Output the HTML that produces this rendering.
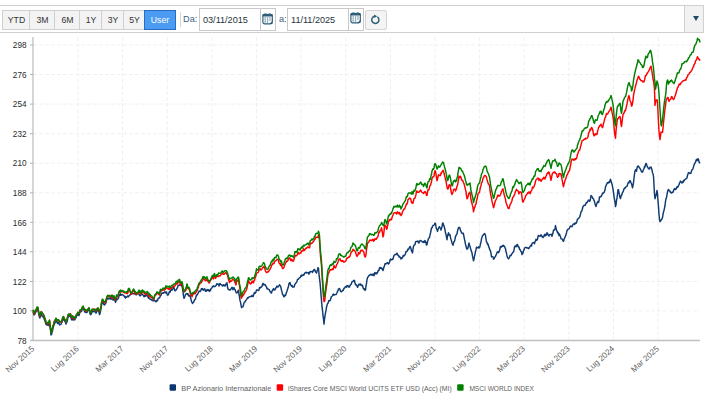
<!DOCTYPE html>
<html><head><meta charset="utf-8"><style>
html,body{margin:0;padding:0;background:#fff;width:720px;height:408px;overflow:hidden;position:relative;font-family:"Liberation Sans",sans-serif;}
svg text{font-family:"Liberation Sans",sans-serif;}
.bar{position:absolute;left:-2px;top:5px;width:704px;height:26px;border:1px solid #d0d0d0;background:#fff;}
.dd{position:absolute;left:684px;top:5px;width:18px;height:26px;border:1px solid #d0d0d0;background:#f2f2f2;}
.tri{position:absolute;left:692.6px;top:16.4px;width:0;height:0;border-left:3.3px solid transparent;border-right:3.3px solid transparent;border-top:5px solid #1f4a6a;}
.btn{position:absolute;top:10px;height:18px;border:1px solid #cfcfcf;background:#f3f3f3;color:#333;font-size:8.7px;line-height:18.6px;text-align:center;box-sizing:content-box;}
.user{background:#4c9bf2;border-color:#2b6bbd;color:#fff;}
.sep{position:absolute;left:180px;top:12px;width:1px;height:15px;background:#d6d6d6;}
.lbl{position:absolute;top:13px;font-size:9.2px;color:#3a5f85;line-height:12px;}
.inp{position:absolute;top:8px;height:21px;border:1px solid #c8c8c8;background:#fff;}
.inp .t{position:absolute;left:3px;top:5px;font-size:9.1px;color:#27323c;line-height:12px;}
.inp .cs{position:absolute;top:0;width:1px;height:21px;background:#c8c8c8;}
.ref{position:absolute;left:365px;top:9.5px;width:19.5px;height:18.5px;border:1px solid #d4d4d4;border-radius:2px;background:#f4f4f4;}
</style></head><body>
<div class="bar"></div>
<div class="dd"></div>
<div class="tri"></div>
<div class="btn" style="left:2px;width:27px">YTD</div>
<div class="btn" style="left:29px;width:25px">3M</div>
<div class="btn" style="left:54px;width:25px">6M</div>
<div class="btn" style="left:79px;width:22px">1Y</div>
<div class="btn" style="left:101px;width:22px">3Y</div>
<div class="btn" style="left:123px;width:21px">5Y</div>
<div class="btn user" style="left:144px;width:30px">User</div>
<div class="sep"></div>
<div class="lbl" style="left:183px">Da:</div>
<div class="inp" style="left:199px;width:75px"><div class="t">03/11/2015</div><div class="cs" style="left:60px"></div>
<svg style="position:absolute;left:62.3px;top:3.6px" width="12" height="12" viewBox="0 0 12 12"><rect x="0.9" y="1.3" width="9.4" height="9.6" rx="1.8" fill="#fff" stroke="#2c5b75" stroke-width="1.15"/><rect x="0.5" y="0.9" width="10.2" height="2.6" rx="1.2" fill="#2c5b75"/><rect x="2.6" y="0.2" width="1.2" height="1.4" fill="#4a7690"/><rect x="7.4" y="0.2" width="1.2" height="1.4" fill="#4a7690"/><g fill="#47738c"><rect x="2.5" y="4.4" width="1.3" height="1.1"/><rect x="4.9" y="4.4" width="1.3" height="1.1"/><rect x="7.3" y="4.4" width="1.3" height="1.1"/><rect x="2.5" y="6.4" width="1.3" height="1.1"/><rect x="4.9" y="6.4" width="1.3" height="1.1"/><rect x="7.3" y="6.4" width="1.3" height="1.1"/><rect x="2.5" y="8.4" width="1.3" height="1.1"/><rect x="4.9" y="8.4" width="1.3" height="1.1"/></g><path d="M10.4 8 L10.4 11 L7.2 11 Z" fill="#2c5b75"/></svg>
</div>
<div class="lbl" style="left:279px">a:</div>
<div class="inp" style="left:287px;width:75px"><div class="t">11/11/2025</div><div class="cs" style="left:59.6px"></div>
<svg style="position:absolute;left:62.0px;top:3.2px" width="12" height="12" viewBox="0 0 12 12"><rect x="0.9" y="1.3" width="9.4" height="9.6" rx="1.8" fill="#fff" stroke="#2c5b75" stroke-width="1.15"/><rect x="0.5" y="0.9" width="10.2" height="2.6" rx="1.2" fill="#2c5b75"/><rect x="2.6" y="0.2" width="1.2" height="1.4" fill="#4a7690"/><rect x="7.4" y="0.2" width="1.2" height="1.4" fill="#4a7690"/><g fill="#47738c"><rect x="2.5" y="4.4" width="1.3" height="1.1"/><rect x="4.9" y="4.4" width="1.3" height="1.1"/><rect x="7.3" y="4.4" width="1.3" height="1.1"/><rect x="2.5" y="6.4" width="1.3" height="1.1"/><rect x="4.9" y="6.4" width="1.3" height="1.1"/><rect x="7.3" y="6.4" width="1.3" height="1.1"/><rect x="2.5" y="8.4" width="1.3" height="1.1"/><rect x="4.9" y="8.4" width="1.3" height="1.1"/></g><path d="M10.4 8 L10.4 11 L7.2 11 Z" fill="#2c5b75"/></svg>
</div>
<div class="ref"><svg style="position:absolute;left:4.4px;top:3.2px" width="11" height="11" viewBox="0 0 11 11"><path d="M4.6 2.3 A3.6 3.6 0 1 0 7.4 2.9" fill="none" stroke="#2f6075" stroke-width="1.5"/><path d="M4 0.6 L7.2 2.2 L4.2 4 Z" fill="#2f6075"/></svg></div>
<svg width="720" height="408" viewBox="0 0 720 408" style="position:absolute;left:0;top:0"><line x1="33" y1="45.0" x2="700" y2="45.0" stroke="#f0f0f0" stroke-width="1" stroke-dasharray="4,2"/><line x1="33" y1="74.5" x2="700" y2="74.5" stroke="#f0f0f0" stroke-width="1" stroke-dasharray="4,2"/><line x1="33" y1="104.1" x2="700" y2="104.1" stroke="#f0f0f0" stroke-width="1" stroke-dasharray="4,2"/><line x1="33" y1="133.7" x2="700" y2="133.7" stroke="#f0f0f0" stroke-width="1" stroke-dasharray="4,2"/><line x1="33" y1="163.2" x2="700" y2="163.2" stroke="#f0f0f0" stroke-width="1" stroke-dasharray="4,2"/><line x1="33" y1="192.8" x2="700" y2="192.8" stroke="#f0f0f0" stroke-width="1" stroke-dasharray="4,2"/><line x1="33" y1="222.3" x2="700" y2="222.3" stroke="#f0f0f0" stroke-width="1" stroke-dasharray="4,2"/><line x1="33" y1="251.8" x2="700" y2="251.8" stroke="#f0f0f0" stroke-width="1" stroke-dasharray="4,2"/><line x1="33" y1="281.4" x2="700" y2="281.4" stroke="#f0f0f0" stroke-width="1" stroke-dasharray="4,2"/><line x1="33" y1="310.9" x2="700" y2="310.9" stroke="#f0f0f0" stroke-width="1" stroke-dasharray="4,2"/><line x1="78.0" y1="37" x2="78.0" y2="340" stroke="#f0f0f0" stroke-width="1" stroke-dasharray="4,2"/><line x1="122.6" y1="37" x2="122.6" y2="340" stroke="#f0f0f0" stroke-width="1" stroke-dasharray="4,2"/><line x1="167.3" y1="37" x2="167.3" y2="340" stroke="#f0f0f0" stroke-width="1" stroke-dasharray="4,2"/><line x1="211.9" y1="37" x2="211.9" y2="340" stroke="#f0f0f0" stroke-width="1" stroke-dasharray="4,2"/><line x1="256.5" y1="37" x2="256.5" y2="340" stroke="#f0f0f0" stroke-width="1" stroke-dasharray="4,2"/><line x1="301.1" y1="37" x2="301.1" y2="340" stroke="#f0f0f0" stroke-width="1" stroke-dasharray="4,2"/><line x1="345.7" y1="37" x2="345.7" y2="340" stroke="#f0f0f0" stroke-width="1" stroke-dasharray="4,2"/><line x1="390.4" y1="37" x2="390.4" y2="340" stroke="#f0f0f0" stroke-width="1" stroke-dasharray="4,2"/><line x1="435.0" y1="37" x2="435.0" y2="340" stroke="#f0f0f0" stroke-width="1" stroke-dasharray="4,2"/><line x1="479.6" y1="37" x2="479.6" y2="340" stroke="#f0f0f0" stroke-width="1" stroke-dasharray="4,2"/><line x1="524.2" y1="37" x2="524.2" y2="340" stroke="#f0f0f0" stroke-width="1" stroke-dasharray="4,2"/><line x1="568.8" y1="37" x2="568.8" y2="340" stroke="#f0f0f0" stroke-width="1" stroke-dasharray="4,2"/><line x1="613.5" y1="37" x2="613.5" y2="340" stroke="#f0f0f0" stroke-width="1" stroke-dasharray="4,2"/><line x1="658.1" y1="37" x2="658.1" y2="340" stroke="#f0f0f0" stroke-width="1" stroke-dasharray="4,2"/><line x1="33" y1="37" x2="33" y2="341" stroke="#c0c0c0" stroke-width="1.3"/><line x1="30" y1="340.5" x2="700" y2="340.5" stroke="#c0c0c0" stroke-width="1.3"/><line x1="30" y1="45.0" x2="33" y2="45.0" stroke="#b0b0b0" stroke-width="1"/><line x1="30" y1="74.5" x2="33" y2="74.5" stroke="#b0b0b0" stroke-width="1"/><line x1="30" y1="104.1" x2="33" y2="104.1" stroke="#b0b0b0" stroke-width="1"/><line x1="30" y1="133.7" x2="33" y2="133.7" stroke="#b0b0b0" stroke-width="1"/><line x1="30" y1="163.2" x2="33" y2="163.2" stroke="#b0b0b0" stroke-width="1"/><line x1="30" y1="192.8" x2="33" y2="192.8" stroke="#b0b0b0" stroke-width="1"/><line x1="30" y1="222.3" x2="33" y2="222.3" stroke="#b0b0b0" stroke-width="1"/><line x1="30" y1="251.8" x2="33" y2="251.8" stroke="#b0b0b0" stroke-width="1"/><line x1="30" y1="281.4" x2="33" y2="281.4" stroke="#b0b0b0" stroke-width="1"/><line x1="30" y1="310.9" x2="33" y2="310.9" stroke="#b0b0b0" stroke-width="1"/><text x="26.5" y="48.2" text-anchor="end" font-size="8.2" fill="#2a2a2a">298</text><text x="26.5" y="77.8" text-anchor="end" font-size="8.2" fill="#2a2a2a">276</text><text x="26.5" y="107.3" text-anchor="end" font-size="8.2" fill="#2a2a2a">254</text><text x="26.5" y="136.8" text-anchor="end" font-size="8.2" fill="#2a2a2a">232</text><text x="26.5" y="166.4" text-anchor="end" font-size="8.2" fill="#2a2a2a">210</text><text x="26.5" y="195.9" text-anchor="end" font-size="8.2" fill="#2a2a2a">188</text><text x="26.5" y="225.5" text-anchor="end" font-size="8.2" fill="#2a2a2a">166</text><text x="26.5" y="255.0" text-anchor="end" font-size="8.2" fill="#2a2a2a">144</text><text x="26.5" y="284.6" text-anchor="end" font-size="8.2" fill="#2a2a2a">122</text><text x="26.5" y="314.1" text-anchor="end" font-size="8.2" fill="#2a2a2a">100</text><text x="26.5" y="343.7" text-anchor="end" font-size="8.2" fill="#2a2a2a">78</text><text transform="translate(34.9,349.5) rotate(-42)" text-anchor="end" font-size="8.2" fill="#606060">Nov 2015</text><text transform="translate(79.5,349.5) rotate(-42)" text-anchor="end" font-size="8.2" fill="#606060">Lug 2016</text><text transform="translate(124.1,349.5) rotate(-42)" text-anchor="end" font-size="8.2" fill="#606060">Mar 2017</text><text transform="translate(168.8,349.5) rotate(-42)" text-anchor="end" font-size="8.2" fill="#606060">Nov 2017</text><text transform="translate(213.4,349.5) rotate(-42)" text-anchor="end" font-size="8.2" fill="#606060">Lug 2018</text><text transform="translate(258.0,349.5) rotate(-42)" text-anchor="end" font-size="8.2" fill="#606060">Mar 2019</text><text transform="translate(302.6,349.5) rotate(-42)" text-anchor="end" font-size="8.2" fill="#606060">Nov 2019</text><text transform="translate(347.2,349.5) rotate(-42)" text-anchor="end" font-size="8.2" fill="#606060">Lug 2020</text><text transform="translate(391.9,349.5) rotate(-42)" text-anchor="end" font-size="8.2" fill="#606060">Mar 2021</text><text transform="translate(436.5,349.5) rotate(-42)" text-anchor="end" font-size="8.2" fill="#606060">Nov 2021</text><text transform="translate(481.1,349.5) rotate(-42)" text-anchor="end" font-size="8.2" fill="#606060">Lug 2022</text><text transform="translate(525.7,349.5) rotate(-42)" text-anchor="end" font-size="8.2" fill="#606060">Mar 2023</text><text transform="translate(570.3,349.5) rotate(-42)" text-anchor="end" font-size="8.2" fill="#606060">Nov 2023</text><text transform="translate(615.0,349.5) rotate(-42)" text-anchor="end" font-size="8.2" fill="#606060">Lug 2024</text><text transform="translate(659.6,349.5) rotate(-42)" text-anchor="end" font-size="8.2" fill="#606060">Mar 2025</text><path d="M33.0,312.1 L33.5,313.2 L34.0,314.8 L34.5,314.8 L35.0,313.8 L35.5,312.6 L36.0,311.4 L36.5,311.2 L37.0,309.2 L37.5,310.0 L38.0,310.1 L38.5,312.9 L39.0,315.0 L39.5,317.4 L40.0,317.9 L40.5,315.3 L41.0,315.7 L41.5,314.4 L42.0,316.0 L42.5,316.6 L43.0,316.3 L43.5,317.7 L44.0,318.4 L44.5,319.8 L45.0,321.1 L45.5,322.8 L46.0,324.3 L46.5,324.9 L47.0,325.1 L47.5,324.5 L48.0,324.5 L48.5,325.6 L49.0,323.3 L49.5,322.4 L50.0,326.6 L50.5,330.4 L51.0,334.9 L51.5,334.6 L52.0,332.2 L52.5,331.1 L53.0,328.2 L53.5,326.6 L54.0,324.6 L54.5,324.0 L55.0,322.5 L55.5,322.0 L56.0,320.1 L56.5,321.8 L57.0,322.2 L57.5,323.5 L58.0,322.4 L58.5,322.3 L59.0,323.4 L59.5,324.9 L60.0,324.4 L60.5,324.6 L61.0,324.2 L61.5,323.2 L62.0,322.0 L62.5,320.7 L63.0,319.3 L63.5,318.1 L64.0,319.8 L64.5,320.7 L65.0,321.6 L65.5,322.3 L66.0,324.0 L66.5,323.0 L67.0,321.7 L67.5,319.7 L68.0,317.0 L68.5,316.3 L69.0,316.5 L69.5,316.2 L70.0,316.1 L70.5,316.6 L71.0,317.9 L71.5,319.6 L72.0,320.0 L72.5,318.1 L73.0,318.5 L73.5,319.9 L74.0,319.6 L74.5,319.8 L75.0,319.7 L75.5,317.3 L76.0,317.8 L76.5,316.2 L77.0,315.2 L77.5,314.7 L78.0,315.1 L78.5,313.9 L79.0,315.5 L79.5,313.8 L80.0,311.9 L80.5,311.8 L81.0,311.6 L81.5,311.5 L82.0,309.8 L82.5,308.6 L83.0,308.4 L83.5,309.0 L84.0,310.2 L84.5,311.1 L85.0,312.2 L85.5,312.0 L86.0,312.6 L86.5,312.3 L87.0,312.4 L87.5,311.1 L88.0,309.9 L88.5,309.6 L89.0,309.0 L89.5,311.5 L90.0,313.6 L90.5,314.8 L91.0,314.2 L91.5,313.6 L92.0,311.8 L92.5,311.4 L93.0,311.0 L93.5,311.6 L94.0,311.8 L94.5,311.5 L95.0,311.2 L95.5,311.9 L96.0,313.1 L96.5,312.3 L97.0,310.5 L97.5,310.0 L98.0,310.4 L98.5,311.3 L99.0,312.2 L99.5,314.6 L100.0,313.7 L100.5,311.2 L101.0,308.6 L101.5,305.4 L102.0,303.2 L102.5,301.5 L103.0,302.5 L103.5,303.5 L104.0,304.8 L104.5,304.9 L105.0,304.4 L105.5,303.6 L106.0,302.5 L106.5,300.3 L107.0,298.1 L107.5,298.9 L108.0,298.0 L108.5,298.7 L109.0,299.1 L109.5,298.4 L110.0,297.6 L110.5,298.4 L111.0,299.4 L111.5,298.6 L112.0,297.2 L112.5,297.3 L113.0,300.1 L113.5,300.0 L114.0,298.8 L114.5,299.2 L115.0,300.8 L115.5,302.2 L116.0,301.0 L116.5,299.1 L117.0,299.5 L117.5,299.6 L118.0,298.7 L118.5,298.0 L119.0,296.1 L119.5,294.7 L120.0,295.2 L120.5,293.8 L121.0,295.3 L121.5,294.9 L122.0,294.4 L122.5,294.6 L123.0,295.1 L123.5,295.1 L124.0,296.0 L124.5,297.0 L125.0,296.3 L125.5,298.1 L126.0,297.0 L126.5,297.3 L127.0,296.9 L127.5,296.0 L128.0,296.2 L128.5,296.7 L129.0,295.7 L129.5,295.6 L130.0,294.8 L130.5,294.7 L131.0,293.1 L131.5,292.8 L132.0,292.4 L132.5,293.0 L133.0,293.9 L133.5,293.8 L134.0,293.7 L134.5,293.7 L135.0,293.7 L135.5,294.5 L136.0,293.1 L136.5,294.7 L137.0,292.9 L137.5,292.8 L138.0,292.4 L138.5,292.6 L139.0,294.4 L139.5,295.3 L140.0,295.8 L140.5,295.7 L141.0,295.0 L141.5,293.2 L142.0,294.1 L142.5,294.5 L143.0,295.2 L143.5,295.2 L144.0,296.8 L144.5,295.4 L145.0,296.4 L145.5,295.8 L146.0,296.0 L146.5,294.8 L147.0,295.0 L147.5,296.0 L148.0,297.0 L148.5,298.3 L149.0,297.8 L149.5,298.6 L150.0,299.0 L150.5,299.4 L151.0,299.4 L151.5,300.2 L152.0,299.9 L152.5,300.1 L153.0,300.8 L153.5,300.7 L154.0,300.8 L154.5,300.8 L155.0,300.8 L155.5,301.3 L156.0,301.8 L156.5,300.9 L157.0,300.1 L157.5,300.7 L158.0,298.9 L158.5,298.1 L159.0,297.9 L159.5,298.1 L160.0,296.8 L160.5,295.8 L161.0,295.3 L161.5,293.7 L162.0,292.9 L162.5,293.3 L163.0,293.3 L163.5,292.6 L164.0,292.9 L164.5,292.0 L165.0,291.8 L165.5,292.5 L166.0,293.0 L166.5,292.0 L167.0,294.0 L167.5,295.1 L168.0,295.0 L168.5,294.4 L169.0,292.6 L169.5,291.6 L170.0,292.2 L170.5,290.7 L171.0,290.1 L171.5,289.2 L172.0,290.3 L172.5,289.0 L173.0,288.3 L173.5,286.9 L174.0,287.9 L174.5,289.9 L175.0,290.9 L175.5,290.2 L176.0,290.1 L176.5,289.5 L177.0,288.2 L177.5,287.7 L178.0,285.6 L178.5,285.3 L179.0,285.2 L179.5,285.3 L180.0,285.1 L180.5,283.8 L181.0,284.4 L181.5,286.1 L182.0,285.8 L182.5,288.7 L183.0,291.9 L183.5,296.2 L184.0,298.3 L184.5,297.4 L185.0,296.1 L185.5,294.6 L186.0,293.9 L186.5,293.6 L187.0,293.4 L187.5,294.5 L188.0,293.8 L188.5,295.8 L189.0,296.0 L189.5,295.7 L190.0,295.3 L190.5,297.8 L191.0,299.3 L191.5,301.6 L192.0,302.4 L192.5,303.5 L193.0,302.6 L193.5,302.6 L194.0,301.1 L194.5,300.1 L195.0,299.6 L195.5,298.8 L196.0,296.7 L196.5,295.1 L197.0,295.3 L197.5,294.3 L198.0,293.4 L198.5,292.2 L199.0,291.2 L199.5,291.0 L200.0,291.6 L200.5,290.9 L201.0,289.8 L201.5,288.6 L202.0,289.5 L202.5,288.6 L203.0,289.6 L203.5,290.2 L204.0,289.7 L204.5,288.8 L205.0,289.1 L205.5,291.3 L206.0,291.4 L206.5,290.6 L207.0,289.5 L207.5,290.2 L208.0,290.7 L208.5,289.7 L209.0,289.7 L209.5,291.4 L210.0,290.8 L210.5,290.3 L211.0,288.5 L211.5,288.2 L212.0,287.7 L212.5,286.8 L213.0,286.2 L213.5,285.8 L214.0,286.8 L214.5,286.4 L215.0,286.4 L215.5,285.9 L216.0,285.7 L216.5,284.4 L217.0,283.6 L217.5,283.8 L218.0,284.4 L218.5,284.2 L219.0,286.0 L219.5,284.5 L220.0,283.4 L220.5,284.5 L221.0,284.6 L221.5,284.7 L222.0,285.3 L222.5,286.1 L223.0,285.8 L223.5,284.7 L224.0,285.4 L224.5,285.1 L225.0,286.1 L225.5,285.2 L226.0,284.1 L226.5,283.2 L227.0,282.8 L227.5,287.0 L228.0,289.0 L228.5,289.5 L229.0,289.6 L229.5,290.0 L230.0,289.5 L230.5,289.9 L231.0,288.9 L231.5,288.0 L232.0,287.3 L232.5,287.7 L233.0,289.7 L233.5,288.9 L234.0,287.6 L234.5,288.8 L235.0,289.5 L235.5,291.1 L236.0,292.2 L236.5,293.0 L237.0,292.5 L237.5,292.5 L238.0,290.9 L238.5,290.2 L239.0,294.5 L239.5,296.9 L240.0,300.4 L240.5,302.1 L241.0,304.9 L241.5,307.6 L242.0,307.0 L242.5,306.8 L243.0,306.7 L243.5,304.7 L244.0,303.0 L244.5,302.1 L245.0,302.0 L245.5,300.8 L246.0,300.3 L246.5,299.8 L247.0,298.8 L247.5,297.7 L248.0,298.3 L248.5,297.2 L249.0,297.1 L249.5,296.7 L250.0,296.6 L250.5,296.5 L251.0,296.3 L251.5,296.6 L252.0,295.3 L252.5,296.4 L253.0,296.6 L253.5,295.5 L254.0,293.6 L254.5,292.5 L255.0,293.3 L255.5,293.0 L256.0,291.7 L256.5,290.0 L257.0,290.2 L257.5,290.0 L258.0,290.4 L258.5,290.6 L259.0,289.9 L259.5,287.6 L260.0,287.7 L260.5,288.0 L261.0,286.8 L261.5,287.0 L262.0,286.4 L262.5,284.4 L263.0,283.3 L263.5,284.3 L264.0,285.0 L264.5,284.4 L265.0,284.4 L265.5,285.3 L266.0,286.5 L266.5,286.9 L267.0,288.8 L267.5,288.5 L268.0,289.1 L268.5,289.5 L269.0,289.5 L269.5,290.1 L270.0,291.5 L270.5,292.0 L271.0,292.9 L271.5,293.0 L272.0,291.1 L272.5,290.4 L273.0,289.5 L273.5,288.6 L274.0,290.1 L274.5,289.3 L275.0,289.7 L275.5,288.9 L276.0,287.5 L276.5,287.5 L277.0,286.1 L277.5,286.5 L278.0,287.0 L278.5,286.3 L279.0,285.8 L279.5,284.7 L280.0,285.8 L280.5,285.9 L281.0,287.9 L281.5,290.2 L282.0,291.9 L282.5,294.2 L283.0,294.8 L283.5,296.1 L284.0,296.9 L284.5,295.3 L285.0,295.8 L285.5,295.6 L286.0,294.0 L286.5,292.6 L287.0,291.0 L287.5,289.2 L288.0,288.1 L288.5,286.1 L289.0,283.5 L289.5,282.9 L290.0,282.4 L290.5,284.7 L291.0,285.1 L291.5,286.3 L292.0,285.4 L292.5,287.0 L293.0,287.2 L293.5,286.8 L294.0,286.9 L294.5,285.4 L295.0,284.1 L295.5,283.7 L296.0,282.7 L296.5,282.5 L297.0,281.3 L297.5,279.5 L298.0,279.2 L298.5,279.2 L299.0,278.2 L299.5,277.7 L300.0,277.7 L300.5,276.7 L301.0,275.5 L301.5,276.3 L302.0,274.9 L302.5,275.5 L303.0,275.4 L303.5,274.5 L304.0,274.9 L304.5,273.7 L305.0,272.8 L305.5,272.5 L306.0,272.2 L306.5,273.0 L307.0,272.5 L307.5,272.7 L308.0,272.7 L308.5,272.8 L309.0,274.2 L309.5,272.1 L310.0,272.5 L310.5,271.4 L311.0,271.5 L311.5,271.6 L312.0,271.7 L312.5,272.4 L313.0,270.7 L313.5,270.9 L314.0,269.5 L314.5,269.4 L315.0,270.1 L315.5,271.9 L316.0,272.3 L316.5,273.1 L317.0,271.3 L317.5,269.7 L318.0,267.6 L318.5,268.2 L319.0,274.3 L319.5,278.4 L320.0,282.3 L320.5,288.0 L321.0,294.4 L321.5,300.5 L322.0,306.3 L322.5,310.4 L323.0,315.7 L323.5,318.9 L324.0,324.1 L324.5,319.5 L325.0,315.9 L325.5,312.9 L326.0,310.7 L326.5,307.2 L327.0,305.3 L327.5,303.6 L328.0,303.4 L328.5,301.6 L329.0,300.4 L329.5,301.0 L330.0,300.7 L330.5,299.7 L331.0,297.8 L331.5,296.6 L332.0,296.2 L332.5,295.6 L333.0,294.5 L333.5,294.0 L334.0,295.2 L334.5,294.6 L335.0,294.6 L335.5,294.4 L336.0,294.5 L336.5,293.8 L337.0,292.8 L337.5,291.3 L338.0,290.7 L338.5,289.0 L339.0,289.1 L339.5,288.5 L340.0,289.4 L340.5,291.2 L341.0,291.6 L341.5,291.8 L342.0,291.3 L342.5,290.2 L343.0,290.6 L343.5,289.6 L344.0,288.3 L344.5,288.2 L345.0,287.4 L345.5,286.6 L346.0,286.5 L346.5,287.2 L347.0,285.6 L347.5,285.8 L348.0,285.6 L348.5,286.9 L349.0,287.2 L349.5,286.9 L350.0,285.6 L350.5,284.6 L351.0,284.4 L351.5,283.4 L352.0,281.6 L352.5,281.5 L353.0,281.5 L353.5,280.8 L354.0,280.3 L354.5,280.5 L355.0,283.1 L355.5,284.8 L356.0,284.5 L356.5,285.1 L357.0,285.8 L357.5,287.4 L358.0,286.1 L358.5,285.1 L359.0,284.1 L359.5,284.6 L360.0,285.0 L360.5,284.0 L361.0,284.8 L361.5,285.5 L362.0,285.1 L362.5,285.5 L363.0,287.7 L363.5,288.6 L364.0,289.2 L364.5,288.7 L365.0,290.4 L365.5,290.0 L366.0,285.9 L366.5,283.3 L367.0,279.9 L367.5,277.6 L368.0,277.0 L368.5,276.2 L369.0,275.6 L369.5,275.0 L370.0,275.2 L370.5,274.5 L371.0,274.2 L371.5,274.5 L372.0,275.3 L372.5,274.7 L373.0,273.9 L373.5,275.3 L374.0,275.7 L374.5,273.3 L375.0,272.5 L375.5,273.4 L376.0,274.0 L376.5,272.8 L377.0,273.4 L377.5,272.7 L378.0,271.0 L378.5,270.2 L379.0,270.4 L379.5,268.0 L380.0,267.4 L380.5,268.3 L381.0,267.7 L381.5,268.6 L382.0,268.2 L382.5,269.7 L383.0,270.6 L383.5,268.9 L384.0,266.8 L384.5,265.9 L385.0,263.7 L385.5,263.9 L386.0,263.7 L386.5,263.7 L387.0,262.9 L387.5,262.6 L388.0,263.2 L388.5,264.1 L389.0,263.4 L389.5,262.0 L390.0,260.1 L390.5,259.0 L391.0,259.9 L391.5,259.4 L392.0,259.8 L392.5,259.0 L393.0,259.2 L393.5,256.9 L394.0,255.4 L394.5,255.0 L395.0,254.5 L395.5,254.5 L396.0,254.7 L396.5,253.8 L397.0,253.1 L397.5,254.9 L398.0,255.2 L398.5,255.2 L399.0,256.9 L399.5,256.6 L400.0,257.4 L400.5,257.2 L401.0,259.0 L401.5,258.6 L402.0,257.7 L402.5,257.9 L403.0,255.8 L403.5,255.4 L404.0,255.9 L404.5,255.3 L405.0,254.8 L405.5,253.5 L406.0,251.5 L406.5,251.5 L407.0,251.5 L407.5,250.3 L408.0,248.9 L408.5,249.5 L409.0,248.6 L409.5,247.3 L410.0,246.4 L410.5,247.2 L411.0,248.7 L411.5,251.1 L412.0,251.4 L412.5,252.9 L413.0,249.1 L413.5,246.2 L414.0,245.1 L414.5,245.1 L415.0,244.5 L415.5,242.0 L416.0,241.5 L416.5,241.4 L417.0,241.4 L417.5,241.6 L418.0,241.0 L418.5,242.9 L419.0,243.0 L419.5,241.7 L420.0,240.6 L420.5,240.4 L421.0,240.8 L421.5,241.2 L422.0,241.4 L422.5,242.1 L423.0,241.7 L423.5,242.5 L424.0,241.2 L424.5,242.3 L425.0,240.6 L425.5,241.2 L426.0,243.0 L426.5,245.0 L427.0,244.6 L427.5,241.7 L428.0,240.3 L428.5,238.4 L429.0,237.9 L429.5,237.4 L430.0,235.2 L430.5,233.0 L431.0,230.5 L431.5,228.0 L432.0,227.9 L432.5,226.4 L433.0,225.5 L433.5,225.3 L434.0,225.0 L434.5,224.5 L435.0,223.1 L435.5,223.5 L436.0,226.9 L436.5,229.2 L437.0,229.4 L437.5,231.4 L438.0,229.8 L438.5,228.2 L439.0,227.4 L439.5,226.7 L440.0,228.0 L440.5,228.4 L441.0,230.0 L441.5,228.0 L442.0,226.9 L442.5,223.6 L443.0,223.1 L443.5,225.0 L444.0,225.7 L444.5,227.7 L445.0,230.0 L445.5,233.0 L446.0,234.4 L446.5,237.0 L447.0,239.7 L447.5,235.9 L448.0,234.4 L448.5,232.8 L449.0,235.1 L449.5,234.5 L450.0,234.6 L450.5,237.6 L451.0,239.4 L451.5,240.8 L452.0,243.0 L452.5,244.2 L453.0,245.3 L453.5,243.2 L454.0,241.6 L454.5,241.4 L455.0,239.2 L455.5,236.5 L456.0,235.7 L456.5,234.5 L457.0,233.8 L457.5,231.2 L458.0,229.3 L458.5,227.7 L459.0,227.5 L459.5,227.4 L460.0,228.4 L460.5,230.4 L461.0,231.5 L461.5,232.6 L462.0,233.4 L462.5,233.6 L463.0,233.1 L463.5,234.1 L464.0,236.8 L464.5,239.3 L465.0,241.7 L465.5,244.4 L466.0,246.0 L466.5,248.1 L467.0,249.2 L467.5,248.9 L468.0,247.8 L468.5,245.1 L469.0,243.0 L469.5,244.9 L470.0,246.4 L470.5,248.1 L471.0,250.3 L471.5,251.5 L472.0,252.9 L472.5,256.2 L473.0,258.4 L473.5,260.8 L474.0,259.2 L474.5,256.1 L475.0,254.5 L475.5,251.5 L476.0,249.9 L476.5,247.2 L477.0,247.9 L477.5,247.7 L478.0,247.9 L478.5,246.7 L479.0,247.8 L479.5,247.8 L480.0,246.2 L480.5,243.8 L481.0,241.9 L481.5,238.8 L482.0,237.3 L482.5,235.6 L483.0,235.4 L483.5,234.5 L484.0,234.0 L484.5,233.6 L485.0,234.1 L485.5,235.5 L486.0,239.0 L486.5,242.0 L487.0,242.1 L487.5,244.4 L488.0,243.9 L488.5,245.7 L489.0,247.6 L489.5,248.7 L490.0,250.2 L490.5,251.1 L491.0,253.4 L491.5,256.9 L492.0,256.5 L492.5,256.6 L493.0,256.8 L493.5,259.2 L494.0,258.9 L494.5,257.5 L495.0,257.2 L495.5,256.4 L496.0,255.1 L496.5,254.0 L497.0,252.5 L497.5,252.0 L498.0,251.6 L498.5,252.8 L499.0,251.6 L499.5,250.8 L500.0,248.5 L500.5,246.4 L501.0,247.3 L501.5,246.4 L502.0,246.6 L502.5,245.6 L503.0,246.2 L503.5,245.3 L504.0,246.2 L504.5,246.2 L505.0,247.9 L505.5,248.7 L506.0,251.8 L506.5,253.0 L507.0,255.9 L507.5,257.5 L508.0,258.1 L508.5,258.9 L509.0,258.3 L509.5,257.2 L510.0,255.4 L510.5,255.4 L511.0,255.7 L511.5,254.3 L512.0,253.6 L512.5,253.1 L513.0,252.2 L513.5,251.9 L514.0,250.2 L514.5,246.9 L515.0,246.1 L515.5,246.4 L516.0,246.8 L516.5,245.0 L517.0,246.2 L517.5,244.5 L518.0,246.2 L518.5,247.0 L519.0,246.9 L519.5,249.3 L520.0,249.3 L520.5,250.6 L521.0,251.6 L521.5,251.6 L522.0,254.6 L522.5,253.9 L523.0,253.0 L523.5,250.6 L524.0,250.0 L524.5,248.0 L525.0,247.7 L525.5,247.5 L526.0,247.5 L526.5,247.4 L527.0,248.1 L527.5,247.8 L528.0,248.0 L528.5,248.7 L529.0,248.4 L529.5,247.3 L530.0,246.7 L530.5,245.8 L531.0,245.1 L531.5,246.0 L532.0,243.7 L532.5,242.9 L533.0,242.7 L533.5,242.6 L534.0,242.4 L534.5,243.8 L535.0,241.6 L535.5,241.0 L536.0,239.3 L536.5,240.2 L537.0,240.1 L537.5,239.1 L538.0,236.5 L538.5,235.4 L539.0,235.7 L539.5,236.2 L540.0,236.4 L540.5,235.6 L541.0,234.8 L541.5,235.4 L542.0,236.8 L542.5,236.5 L543.0,237.6 L543.5,237.1 L544.0,236.2 L544.5,234.5 L545.0,234.4 L545.5,235.8 L546.0,234.2 L546.5,234.9 L547.0,232.8 L547.5,233.1 L548.0,234.7 L548.5,235.1 L549.0,236.1 L549.5,234.7 L550.0,234.8 L550.5,234.4 L551.0,234.5 L551.5,234.3 L552.0,236.4 L552.5,234.4 L553.0,233.0 L553.5,230.1 L554.0,229.8 L554.5,230.1 L555.0,228.7 L555.5,225.6 L556.0,228.0 L556.5,230.4 L557.0,230.9 L557.5,232.7 L558.0,232.2 L558.5,234.0 L559.0,235.5 L559.5,233.9 L560.0,235.4 L560.5,236.7 L561.0,238.8 L561.5,238.9 L562.0,239.0 L562.5,239.6 L563.0,241.1 L563.5,241.2 L564.0,239.5 L564.5,238.2 L565.0,237.1 L565.5,235.9 L566.0,234.4 L566.5,232.9 L567.0,230.5 L567.5,229.8 L568.0,229.1 L568.5,229.0 L569.0,228.8 L569.5,227.9 L570.0,226.9 L570.5,226.0 L571.0,226.1 L571.5,226.1 L572.0,226.8 L572.5,225.4 L573.0,224.5 L573.5,224.0 L574.0,224.0 L574.5,224.4 L575.0,222.9 L575.5,223.5 L576.0,223.5 L576.5,222.6 L577.0,221.0 L577.5,219.3 L578.0,218.7 L578.5,218.6 L579.0,217.8 L579.5,217.1 L580.0,216.1 L580.5,214.1 L581.0,212.0 L581.5,211.2 L582.0,210.7 L582.5,208.5 L583.0,206.4 L583.5,205.9 L584.0,205.3 L584.5,205.1 L585.0,205.6 L585.5,204.5 L586.0,203.2 L586.5,202.4 L587.0,202.7 L587.5,201.6 L588.0,200.8 L588.5,200.1 L589.0,200.4 L589.5,201.3 L590.0,200.8 L590.5,198.7 L591.0,195.5 L591.5,196.0 L592.0,196.6 L592.5,197.6 L593.0,198.7 L593.5,198.9 L594.0,200.6 L594.5,201.5 L595.0,203.7 L595.5,205.2 L596.0,206.5 L596.5,204.5 L597.0,203.3 L597.5,202.1 L598.0,201.3 L598.5,202.5 L599.0,200.7 L599.5,196.9 L600.0,197.1 L600.5,196.4 L601.0,196.7 L601.5,195.5 L602.0,195.0 L602.5,193.3 L603.0,192.9 L603.5,193.2 L604.0,192.5 L604.5,191.2 L605.0,190.1 L605.5,186.9 L606.0,185.7 L606.5,184.5 L607.0,183.7 L607.5,182.6 L608.0,183.0 L608.5,182.9 L609.0,181.7 L609.5,182.4 L610.0,180.6 L610.5,179.2 L611.0,181.1 L611.5,182.7 L612.0,184.2 L612.5,186.3 L613.0,189.1 L613.5,192.4 L614.0,196.4 L614.5,199.3 L615.0,202.2 L615.5,206.6 L616.0,204.7 L616.5,200.7 L617.0,197.9 L617.5,194.2 L618.0,189.7 L618.5,189.8 L619.0,192.8 L619.5,195.0 L620.0,197.7 L620.5,198.6 L621.0,196.4 L621.5,195.4 L622.0,194.4 L622.5,192.3 L623.0,192.0 L623.5,190.6 L624.0,188.8 L624.5,188.1 L625.0,188.4 L625.5,187.3 L626.0,186.8 L626.5,186.5 L627.0,186.4 L627.5,184.8 L628.0,183.1 L628.5,182.3 L629.0,182.9 L629.5,181.1 L630.0,180.6 L630.5,181.2 L631.0,182.7 L631.5,183.7 L632.0,185.6 L632.5,187.9 L633.0,185.6 L633.5,182.6 L634.0,178.0 L634.5,174.1 L635.0,171.0 L635.5,169.9 L636.0,169.6 L636.5,171.2 L637.0,168.4 L637.5,166.2 L638.0,166.8 L638.5,166.1 L639.0,167.0 L639.5,168.0 L640.0,168.2 L640.5,169.4 L641.0,170.5 L641.5,171.8 L642.0,172.0 L642.5,172.2 L643.0,170.7 L643.5,169.4 L644.0,168.7 L644.5,166.6 L645.0,167.0 L645.5,164.4 L646.0,163.4 L646.5,164.1 L647.0,165.7 L647.5,167.0 L648.0,167.6 L648.5,168.8 L649.0,168.9 L649.5,168.9 L650.0,167.3 L650.5,167.6 L651.0,167.1 L651.5,168.3 L652.0,170.2 L652.5,172.7 L653.0,173.7 L653.5,176.3 L654.0,185.0 L654.5,194.2 L655.0,198.7 L655.5,196.8 L656.0,195.7 L656.5,192.8 L657.0,190.5 L657.5,193.8 L658.0,200.7 L658.5,206.9 L659.0,214.5 L659.5,219.3 L660.0,221.5 L660.5,221.3 L661.0,220.2 L661.5,219.5 L662.0,219.0 L662.5,217.6 L663.0,214.5 L663.5,212.0 L664.0,210.2 L664.5,208.2 L665.0,205.5 L665.5,201.4 L666.0,198.8 L666.5,197.6 L667.0,194.6 L667.5,192.0 L668.0,190.1 L668.5,189.4 L669.0,190.4 L669.5,191.0 L670.0,190.9 L670.5,192.5 L671.0,192.6 L671.5,193.0 L672.0,192.2 L672.5,192.6 L673.0,192.3 L673.5,190.8 L674.0,189.6 L674.5,188.6 L675.0,188.5 L675.5,189.6 L676.0,189.0 L676.5,188.2 L677.0,186.8 L677.5,187.3 L678.0,186.7 L678.5,185.4 L679.0,184.9 L679.5,182.8 L680.0,182.6 L680.5,181.1 L681.0,182.0 L681.5,182.2 L682.0,183.0 L682.5,181.9 L683.0,182.5 L683.5,180.5 L684.0,181.0 L684.5,180.1 L685.0,179.3 L685.5,179.1 L686.0,178.7 L686.5,178.6 L687.0,177.6 L687.5,175.5 L688.0,173.9 L688.5,172.6 L689.0,173.0 L689.5,172.9 L690.0,173.5 L690.5,173.3 L691.0,173.2 L691.5,170.7 L692.0,169.6 L692.5,169.6 L693.0,168.5 L693.5,166.9 L694.0,165.0 L694.5,163.9 L695.0,163.2 L695.5,162.0 L696.0,160.5 L696.5,159.4 L697.0,160.7 L697.5,159.3 L698.0,158.7 L698.5,159.5 L699.0,161.8 L699.5,162.9 L700.0,162.1" fill="none" stroke="#0f3a72" stroke-width="1.45" stroke-linejoin="round"/><path d="M33.0,310.4 L33.5,312.0 L34.0,313.9 L34.5,313.4 L35.0,312.6 L35.5,310.8 L36.0,310.4 L36.5,309.4 L37.0,308.4 L37.5,307.9 L38.0,307.9 L38.5,311.2 L39.0,313.3 L39.5,315.4 L40.0,316.4 L40.5,313.4 L41.0,311.6 L41.5,311.7 L42.0,313.1 L42.5,313.2 L43.0,313.9 L43.5,315.2 L44.0,315.6 L44.5,317.4 L45.0,318.7 L45.5,319.9 L46.0,322.6 L46.5,323.0 L47.0,323.6 L47.5,323.2 L48.0,323.7 L48.5,323.9 L49.0,322.4 L49.5,320.3 L50.0,324.6 L50.5,328.4 L51.0,332.6 L51.5,332.0 L52.0,329.6 L52.5,328.3 L53.0,326.2 L53.5,325.4 L54.0,322.1 L54.5,320.8 L55.0,320.5 L55.5,319.7 L56.0,318.6 L56.5,319.7 L57.0,320.7 L57.5,321.0 L58.0,319.9 L58.5,319.7 L59.0,320.8 L59.5,322.0 L60.0,322.1 L60.5,321.4 L61.0,321.9 L61.5,321.9 L62.0,320.4 L62.5,318.8 L63.0,317.2 L63.5,316.6 L64.0,317.6 L64.5,319.3 L65.0,319.7 L65.5,320.2 L66.0,322.1 L66.5,320.2 L67.0,319.7 L67.5,317.1 L68.0,315.3 L68.5,314.3 L69.0,314.3 L69.5,315.0 L70.0,313.9 L70.5,313.7 L71.0,315.9 L71.5,316.4 L72.0,318.1 L72.5,315.8 L73.0,316.4 L73.5,318.5 L74.0,317.4 L74.5,318.8 L75.0,318.5 L75.5,316.1 L76.0,316.1 L76.5,314.8 L77.0,314.2 L77.5,312.8 L78.0,312.0 L78.5,312.6 L79.0,313.6 L79.5,312.9 L80.0,310.5 L80.5,310.2 L81.0,309.6 L81.5,309.8 L82.0,308.5 L82.5,306.9 L83.0,306.6 L83.5,307.8 L84.0,308.4 L84.5,308.9 L85.0,309.8 L85.5,310.7 L86.0,311.3 L86.5,310.7 L87.0,310.8 L87.5,309.9 L88.0,309.8 L88.5,308.6 L89.0,307.8 L89.5,310.1 L90.0,312.0 L90.5,313.0 L91.0,311.7 L91.5,311.1 L92.0,310.2 L92.5,310.3 L93.0,308.8 L93.5,309.2 L94.0,309.8 L94.5,309.3 L95.0,309.2 L95.5,310.8 L96.0,310.5 L96.5,310.7 L97.0,309.0 L97.5,308.5 L98.0,308.0 L98.5,309.7 L99.0,311.0 L99.5,311.6 L100.0,311.3 L100.5,309.2 L101.0,306.4 L101.5,303.1 L102.0,300.8 L102.5,299.8 L103.0,300.4 L103.5,302.1 L104.0,301.8 L104.5,303.1 L105.0,302.8 L105.5,302.1 L106.0,300.9 L106.5,298.2 L107.0,296.7 L107.5,296.1 L108.0,295.6 L108.5,296.2 L109.0,296.5 L109.5,295.6 L110.0,295.5 L110.5,296.3 L111.0,297.7 L111.5,296.5 L112.0,295.0 L112.5,296.3 L113.0,298.3 L113.5,297.9 L114.0,296.9 L114.5,297.5 L115.0,299.8 L115.5,300.1 L116.0,298.5 L116.5,296.7 L117.0,296.7 L117.5,296.9 L118.0,295.7 L118.5,295.1 L119.0,292.7 L119.5,291.1 L120.0,292.0 L120.5,291.0 L121.0,291.9 L121.5,291.6 L122.0,291.3 L122.5,291.4 L123.0,291.9 L123.5,292.2 L124.0,292.5 L124.5,292.9 L125.0,292.8 L125.5,292.9 L126.0,292.5 L126.5,293.6 L127.0,292.9 L127.5,293.7 L128.0,292.0 L128.5,289.1 L129.0,289.8 L129.5,289.7 L130.0,291.7 L130.5,292.3 L131.0,294.2 L131.5,294.3 L132.0,293.5 L132.5,292.2 L133.0,291.3 L133.5,289.9 L134.0,290.6 L134.5,291.9 L135.0,293.0 L135.5,293.9 L136.0,293.3 L136.5,294.0 L137.0,294.3 L137.5,293.5 L138.0,293.2 L138.5,293.3 L139.0,291.8 L139.5,291.9 L140.0,292.1 L140.5,293.4 L141.0,294.1 L141.5,291.6 L142.0,292.1 L142.5,291.5 L143.0,292.5 L143.5,292.8 L144.0,292.7 L144.5,293.0 L145.0,294.1 L145.5,294.4 L146.0,293.0 L146.5,293.4 L147.0,293.6 L147.5,293.8 L148.0,294.2 L148.5,296.4 L149.0,295.6 L149.5,296.6 L150.0,295.8 L150.5,296.7 L151.0,297.4 L151.5,297.8 L152.0,297.6 L152.5,298.5 L153.0,298.9 L153.5,299.6 L154.0,299.6 L154.5,296.7 L155.0,295.1 L155.5,294.8 L156.0,294.9 L156.5,294.0 L157.0,293.2 L157.5,293.5 L158.0,293.1 L158.5,294.2 L159.0,294.3 L159.5,295.1 L160.0,292.5 L160.5,290.1 L161.0,290.5 L161.5,291.0 L162.0,290.4 L162.5,290.3 L163.0,289.4 L163.5,288.6 L164.0,289.9 L164.5,290.2 L165.0,289.8 L165.5,288.8 L166.0,287.6 L166.5,287.6 L167.0,288.4 L167.5,288.4 L168.0,288.7 L168.5,288.2 L169.0,289.6 L169.5,288.2 L170.0,289.3 L170.5,288.3 L171.0,288.4 L171.5,287.6 L172.0,287.6 L172.5,287.2 L173.0,286.5 L173.5,286.2 L174.0,286.4 L174.5,286.4 L175.0,285.6 L175.5,285.1 L176.0,284.3 L176.5,283.5 L177.0,282.8 L177.5,283.9 L178.0,282.3 L178.5,281.9 L179.0,280.9 L179.5,280.7 L180.0,282.8 L180.5,285.1 L181.0,284.0 L181.5,283.6 L182.0,283.6 L182.5,285.8 L183.0,289.0 L183.5,290.8 L184.0,291.9 L184.5,291.7 L185.0,290.8 L185.5,290.9 L186.0,289.9 L186.5,287.2 L187.0,284.8 L187.5,287.4 L188.0,288.5 L188.5,288.6 L189.0,289.5 L189.5,289.6 L190.0,292.0 L190.5,294.4 L191.0,295.3 L191.5,295.2 L192.0,296.7 L192.5,295.3 L193.0,294.2 L193.5,294.1 L194.0,292.6 L194.5,292.9 L195.0,293.9 L195.5,293.3 L196.0,292.1 L196.5,291.5 L197.0,290.7 L197.5,289.2 L198.0,288.2 L198.5,286.7 L199.0,284.8 L199.5,284.5 L200.0,283.3 L200.5,283.1 L201.0,282.5 L201.5,282.6 L202.0,281.0 L202.5,280.5 L203.0,279.5 L203.5,278.7 L204.0,278.6 L204.5,279.4 L205.0,280.2 L205.5,280.8 L206.0,280.6 L206.5,279.6 L207.0,279.3 L207.5,280.9 L208.0,281.5 L208.5,281.4 L209.0,283.0 L209.5,282.9 L210.0,280.7 L210.5,280.5 L211.0,279.4 L211.5,279.1 L212.0,277.7 L212.5,277.3 L213.0,278.6 L213.5,278.9 L214.0,276.6 L214.5,275.7 L215.0,275.7 L215.5,278.4 L216.0,277.7 L216.5,275.9 L217.0,276.6 L217.5,276.4 L218.0,275.9 L218.5,276.5 L219.0,276.0 L219.5,275.7 L220.0,276.0 L220.5,275.5 L221.0,274.5 L221.5,273.9 L222.0,273.7 L222.5,273.0 L223.0,274.3 L223.5,274.2 L224.0,274.3 L224.5,273.8 L225.0,273.3 L225.5,272.8 L226.0,272.9 L226.5,273.2 L227.0,274.6 L227.5,275.1 L228.0,277.1 L228.5,279.5 L229.0,281.0 L229.5,282.6 L230.0,281.7 L230.5,280.8 L231.0,281.2 L231.5,281.1 L232.0,280.3 L232.5,279.3 L233.0,279.3 L233.5,279.9 L234.0,280.2 L234.5,280.6 L235.0,282.8 L235.5,283.2 L236.0,285.0 L236.5,281.9 L237.0,281.5 L237.5,280.3 L238.0,280.3 L238.5,279.2 L239.0,282.9 L239.5,285.9 L240.0,289.2 L240.5,292.4 L241.0,297.2 L241.5,298.2 L242.0,296.8 L242.5,296.3 L243.0,294.2 L243.5,295.1 L244.0,294.0 L244.5,293.3 L245.0,292.1 L245.5,291.1 L246.0,291.1 L246.5,289.7 L247.0,288.0 L247.5,285.3 L248.0,283.4 L248.5,280.5 L249.0,282.0 L249.5,282.4 L250.0,283.3 L250.5,284.0 L251.0,283.5 L251.5,283.3 L252.0,281.2 L252.5,281.1 L253.0,282.6 L253.5,282.7 L254.0,280.7 L254.5,280.4 L255.0,278.0 L255.5,277.1 L256.0,275.5 L256.5,273.1 L257.0,273.1 L257.5,272.6 L258.0,272.5 L258.5,271.8 L259.0,270.0 L259.5,269.7 L260.0,268.4 L260.5,269.7 L261.0,270.1 L261.5,269.3 L262.0,269.1 L262.5,267.7 L263.0,267.4 L263.5,267.1 L264.0,266.2 L264.5,268.3 L265.0,269.3 L265.5,271.1 L266.0,271.7 L266.5,272.7 L267.0,272.4 L267.5,272.3 L268.0,271.2 L268.5,271.7 L269.0,270.7 L269.5,269.6 L270.0,269.5 L270.5,267.9 L271.0,267.7 L271.5,264.9 L272.0,265.0 L272.5,264.3 L273.0,263.1 L273.5,263.8 L274.0,263.6 L274.5,261.9 L275.0,261.3 L275.5,260.8 L276.0,260.6 L276.5,259.8 L277.0,259.6 L277.5,259.3 L278.0,259.1 L278.5,260.8 L279.0,262.9 L279.5,263.5 L280.0,263.7 L280.5,265.4 L281.0,263.8 L281.5,265.2 L282.0,267.1 L282.5,268.5 L283.0,268.5 L283.5,268.0 L284.0,267.3 L284.5,265.1 L285.0,264.6 L285.5,263.0 L286.0,262.4 L286.5,260.9 L287.0,261.1 L287.5,261.2 L288.0,260.3 L288.5,258.9 L289.0,258.2 L289.5,257.7 L290.0,258.4 L290.5,260.1 L291.0,260.8 L291.5,259.3 L292.0,259.9 L292.5,261.0 L293.0,260.3 L293.5,261.1 L294.0,259.3 L294.5,257.7 L295.0,255.3 L295.5,256.0 L296.0,255.5 L296.5,255.8 L297.0,255.3 L297.5,254.0 L298.0,252.1 L298.5,253.2 L299.0,254.1 L299.5,253.5 L300.0,253.2 L300.5,252.4 L301.0,252.9 L301.5,251.3 L302.0,250.6 L302.5,251.1 L303.0,251.0 L303.5,248.8 L304.0,249.6 L304.5,250.5 L305.0,249.5 L305.5,248.9 L306.0,248.0 L306.5,248.3 L307.0,247.6 L307.5,247.4 L308.0,246.8 L308.5,247.6 L309.0,247.4 L309.5,247.8 L310.0,245.2 L310.5,243.1 L311.0,243.6 L311.5,243.3 L312.0,242.9 L312.5,242.9 L313.0,241.8 L313.5,241.8 L314.0,240.6 L314.5,239.2 L315.0,239.3 L315.5,237.5 L316.0,237.6 L316.5,237.2 L317.0,237.2 L317.5,237.5 L318.0,237.4 L318.5,234.7 L319.0,236.9 L319.5,240.4 L320.0,248.5 L320.5,256.1 L321.0,260.7 L321.5,265.8 L322.0,273.9 L322.5,282.4 L323.0,289.7 L323.5,297.4 L324.0,301.3 L324.5,301.6 L325.0,298.5 L325.5,293.3 L326.0,289.7 L326.5,286.2 L327.0,283.4 L327.5,278.1 L328.0,274.6 L328.5,272.9 L329.0,272.4 L329.5,271.1 L330.0,270.6 L330.5,269.6 L331.0,269.7 L331.5,270.0 L332.0,269.1 L332.5,268.7 L333.0,269.7 L333.5,268.1 L334.0,265.4 L334.5,266.9 L335.0,267.5 L335.5,267.9 L336.0,266.8 L336.5,264.7 L337.0,264.1 L337.5,263.4 L338.0,261.9 L338.5,260.2 L339.0,259.4 L339.5,259.5 L340.0,258.5 L340.5,260.6 L341.0,260.5 L341.5,261.3 L342.0,261.4 L342.5,260.5 L343.0,261.0 L343.5,261.8 L344.0,262.2 L344.5,261.9 L345.0,261.6 L345.5,261.0 L346.0,260.6 L346.5,258.6 L347.0,257.9 L347.5,258.3 L348.0,257.6 L348.5,257.4 L349.0,256.6 L349.5,256.9 L350.0,256.2 L350.5,254.4 L351.0,252.7 L351.5,251.8 L352.0,251.7 L352.5,250.8 L353.0,249.3 L353.5,250.1 L354.0,250.3 L354.5,250.2 L355.0,251.2 L355.5,252.0 L356.0,253.7 L356.5,255.6 L357.0,256.4 L357.5,255.7 L358.0,254.8 L358.5,252.4 L359.0,252.9 L359.5,253.8 L360.0,253.1 L360.5,250.9 L361.0,250.2 L361.5,250.8 L362.0,250.3 L362.5,250.2 L363.0,251.1 L363.5,251.5 L364.0,253.0 L364.5,255.7 L365.0,257.0 L365.5,256.9 L366.0,254.6 L366.5,249.6 L367.0,246.6 L367.5,243.1 L368.0,242.7 L368.5,242.6 L369.0,241.6 L369.5,240.3 L370.0,240.2 L370.5,240.0 L371.0,240.5 L371.5,240.5 L372.0,240.1 L372.5,239.4 L373.0,239.3 L373.5,241.2 L374.0,240.8 L374.5,240.1 L375.0,238.6 L375.5,239.2 L376.0,239.4 L376.5,239.0 L377.0,237.9 L377.5,236.9 L378.0,236.4 L378.5,233.9 L379.0,231.9 L379.5,232.3 L380.0,230.8 L380.5,230.0 L381.0,230.0 L381.5,227.7 L382.0,230.5 L382.5,233.3 L383.0,236.9 L383.5,235.6 L384.0,231.3 L384.5,226.4 L385.0,225.1 L385.5,225.7 L386.0,226.6 L386.5,229.2 L387.0,228.9 L387.5,226.2 L388.0,224.0 L388.5,221.7 L389.0,221.0 L389.5,219.6 L390.0,220.2 L390.5,219.9 L391.0,219.0 L391.5,219.7 L392.0,217.6 L392.5,216.0 L393.0,215.0 L393.5,213.6 L394.0,213.0 L394.5,212.7 L395.0,212.6 L395.5,213.1 L396.0,212.9 L396.5,214.0 L397.0,212.4 L397.5,211.8 L398.0,212.6 L398.5,213.7 L399.0,212.6 L399.5,212.5 L400.0,214.6 L400.5,214.0 L401.0,215.6 L401.5,214.5 L402.0,213.8 L402.5,211.7 L403.0,210.9 L403.5,209.8 L404.0,209.0 L404.5,209.1 L405.0,208.0 L405.5,206.6 L406.0,205.2 L406.5,203.8 L407.0,204.1 L407.5,202.7 L408.0,199.5 L408.5,199.4 L409.0,198.5 L409.5,198.0 L410.0,198.6 L410.5,198.4 L411.0,200.2 L411.5,202.7 L412.0,202.0 L412.5,203.2 L413.0,203.2 L413.5,200.8 L414.0,198.5 L414.5,198.4 L415.0,197.9 L415.5,196.4 L416.0,194.4 L416.5,191.1 L417.0,191.0 L417.5,192.3 L418.0,192.3 L418.5,192.3 L419.0,192.2 L419.5,191.3 L420.0,191.1 L420.5,190.0 L421.0,190.7 L421.5,191.6 L422.0,192.3 L422.5,192.6 L423.0,192.9 L423.5,193.5 L424.0,193.0 L424.5,191.6 L425.0,191.6 L425.5,192.0 L426.0,193.2 L426.5,195.4 L427.0,195.3 L427.5,192.3 L428.0,189.7 L428.5,190.1 L429.0,189.7 L429.5,187.3 L430.0,185.6 L430.5,185.4 L431.0,183.4 L431.5,181.8 L432.0,178.4 L432.5,177.4 L433.0,176.7 L433.5,176.7 L434.0,176.1 L434.5,172.7 L435.0,170.7 L435.5,171.4 L436.0,174.3 L436.5,177.3 L437.0,180.7 L437.5,179.5 L438.0,176.8 L438.5,174.8 L439.0,175.0 L439.5,175.3 L440.0,175.7 L440.5,175.2 L441.0,173.1 L441.5,173.4 L442.0,171.8 L442.5,171.3 L443.0,170.2 L443.5,171.0 L444.0,173.3 L444.5,175.1 L445.0,177.2 L445.5,179.3 L446.0,181.2 L446.5,184.1 L447.0,187.1 L447.5,188.9 L448.0,189.1 L448.5,187.3 L449.0,185.0 L449.5,184.8 L450.0,184.6 L450.5,187.7 L451.0,191.0 L451.5,193.1 L452.0,194.5 L452.5,193.4 L453.0,191.9 L453.5,189.7 L454.0,189.4 L454.5,188.9 L455.0,189.3 L455.5,191.0 L456.0,189.7 L456.5,188.8 L457.0,185.9 L457.5,185.4 L458.0,182.4 L458.5,179.7 L459.0,176.1 L459.5,176.9 L460.0,177.4 L460.5,176.2 L461.0,177.7 L461.5,179.4 L462.0,180.4 L462.5,180.3 L463.0,181.2 L463.5,182.8 L464.0,183.5 L464.5,185.6 L465.0,187.6 L465.5,189.9 L466.0,191.8 L466.5,195.9 L467.0,198.7 L467.5,198.4 L468.0,196.6 L468.5,194.5 L469.0,193.2 L469.5,193.0 L470.0,192.1 L470.5,195.8 L471.0,199.5 L471.5,201.7 L472.0,203.5 L472.5,205.7 L473.0,207.5 L473.5,211.8 L474.0,209.5 L474.5,207.3 L475.0,207.0 L475.5,204.4 L476.0,204.2 L476.5,200.7 L477.0,199.3 L477.5,196.8 L478.0,193.9 L478.5,193.1 L479.0,192.8 L479.5,192.2 L480.0,189.3 L480.5,186.9 L481.0,185.7 L481.5,182.8 L482.0,182.5 L482.5,180.6 L483.0,178.1 L483.5,177.9 L484.0,176.5 L484.5,175.5 L485.0,175.6 L485.5,175.7 L486.0,176.3 L486.5,177.4 L487.0,179.7 L487.5,181.1 L488.0,183.0 L488.5,184.1 L489.0,184.4 L489.5,185.5 L490.0,190.5 L490.5,193.3 L491.0,196.0 L491.5,198.1 L492.0,201.4 L492.5,203.1 L493.0,205.2 L493.5,207.7 L494.0,206.4 L494.5,204.4 L495.0,202.0 L495.5,200.7 L496.0,199.7 L496.5,198.7 L497.0,197.5 L497.5,196.0 L498.0,194.9 L498.5,196.0 L499.0,196.0 L499.5,196.1 L500.0,195.5 L500.5,194.6 L501.0,193.0 L501.5,191.2 L502.0,190.8 L502.5,188.9 L503.0,189.0 L503.5,191.7 L504.0,194.1 L504.5,195.7 L505.0,197.6 L505.5,199.4 L506.0,202.4 L506.5,203.8 L507.0,205.3 L507.5,206.2 L508.0,208.1 L508.5,208.4 L509.0,208.7 L509.5,206.9 L510.0,204.7 L510.5,204.1 L511.0,203.2 L511.5,201.9 L512.0,200.5 L512.5,197.8 L513.0,197.3 L513.5,196.9 L514.0,195.3 L514.5,194.9 L515.0,193.1 L515.5,191.2 L516.0,190.7 L516.5,189.2 L517.0,190.4 L517.5,190.5 L518.0,190.8 L518.5,192.4 L519.0,193.9 L519.5,192.0 L520.0,192.3 L520.5,191.8 L521.0,192.0 L521.5,193.1 L522.0,196.9 L522.5,201.0 L523.0,202.2 L523.5,200.9 L524.0,200.0 L524.5,198.9 L525.0,198.0 L525.5,196.5 L526.0,195.1 L526.5,194.9 L527.0,194.2 L527.5,193.5 L528.0,192.4 L528.5,192.9 L529.0,191.8 L529.5,192.4 L530.0,193.7 L530.5,192.8 L531.0,191.1 L531.5,190.7 L532.0,189.4 L532.5,187.0 L533.0,188.0 L533.5,187.5 L534.0,186.5 L534.5,185.0 L535.0,183.9 L535.5,181.4 L536.0,179.8 L536.5,179.5 L537.0,178.8 L537.5,178.6 L538.0,178.1 L538.5,178.2 L539.0,180.5 L539.5,179.1 L540.0,179.2 L540.5,180.0 L541.0,181.3 L541.5,180.8 L542.0,179.8 L542.5,178.8 L543.0,179.0 L543.5,177.8 L544.0,177.2 L544.5,178.4 L545.0,178.9 L545.5,177.8 L546.0,176.1 L546.5,175.5 L547.0,173.6 L547.5,172.9 L548.0,173.3 L548.5,171.9 L549.0,172.1 L549.5,174.2 L550.0,175.3 L550.5,178.1 L551.0,180.4 L551.5,177.9 L552.0,175.2 L552.5,173.2 L553.0,172.8 L553.5,172.3 L554.0,172.7 L554.5,171.8 L555.0,172.4 L555.5,173.3 L556.0,173.6 L556.5,173.6 L557.0,175.7 L557.5,177.2 L558.0,176.6 L558.5,176.4 L559.0,173.5 L559.5,173.4 L560.0,174.0 L560.5,173.8 L561.0,173.8 L561.5,176.7 L562.0,179.1 L562.5,181.7 L563.0,185.0 L563.5,186.7 L564.0,184.2 L564.5,182.5 L565.0,180.6 L565.5,179.0 L566.0,178.4 L566.5,176.3 L567.0,174.9 L567.5,174.5 L568.0,173.0 L568.5,171.4 L569.0,171.3 L569.5,170.4 L570.0,168.0 L570.5,165.3 L571.0,162.5 L571.5,160.4 L572.0,159.1 L572.5,159.6 L573.0,159.0 L573.5,160.2 L574.0,159.7 L574.5,159.9 L575.0,158.6 L575.5,159.5 L576.0,158.4 L576.5,158.7 L577.0,156.6 L577.5,154.2 L578.0,153.3 L578.5,151.6 L579.0,150.5 L579.5,150.4 L580.0,149.0 L580.5,146.8 L581.0,145.1 L581.5,142.9 L582.0,140.9 L582.5,140.6 L583.0,140.4 L583.5,139.9 L584.0,139.4 L584.5,138.9 L585.0,139.3 L585.5,138.2 L586.0,138.9 L586.5,138.6 L587.0,138.4 L587.5,137.7 L588.0,136.9 L588.5,133.8 L589.0,132.2 L589.5,131.7 L590.0,129.3 L590.5,130.2 L591.0,128.7 L591.5,127.4 L592.0,128.0 L592.5,129.3 L593.0,131.2 L593.5,134.3 L594.0,135.8 L594.5,135.6 L595.0,134.5 L595.5,133.7 L596.0,133.9 L596.5,134.4 L597.0,134.4 L597.5,131.8 L598.0,129.9 L598.5,127.8 L599.0,127.2 L599.5,125.8 L600.0,125.4 L600.5,125.7 L601.0,124.1 L601.5,125.9 L602.0,126.5 L602.5,127.7 L603.0,126.1 L603.5,123.3 L604.0,122.0 L604.5,119.8 L605.0,117.7 L605.5,117.1 L606.0,115.3 L606.5,113.5 L607.0,114.2 L607.5,114.0 L608.0,113.3 L608.5,112.0 L609.0,111.4 L609.5,110.6 L610.0,109.8 L610.5,108.9 L611.0,107.2 L611.5,109.2 L612.0,112.2 L612.5,114.4 L613.0,117.1 L613.5,120.8 L614.0,126.5 L614.5,132.4 L615.0,135.7 L615.5,138.2 L616.0,131.0 L616.5,126.1 L617.0,122.4 L617.5,118.7 L618.0,119.0 L618.5,117.9 L619.0,117.2 L619.5,116.7 L620.0,116.5 L620.5,119.2 L621.0,124.1 L621.5,126.5 L622.0,122.6 L622.5,118.2 L623.0,114.7 L623.5,113.5 L624.0,113.3 L624.5,111.4 L625.0,110.4 L625.5,110.7 L626.0,108.1 L626.5,106.3 L627.0,103.9 L627.5,101.0 L628.0,98.7 L628.5,96.6 L629.0,95.6 L629.5,97.4 L630.0,100.8 L630.5,101.8 L631.0,102.3 L631.5,106.1 L632.0,105.7 L632.5,103.0 L633.0,100.3 L633.5,95.5 L634.0,92.8 L634.5,90.0 L635.0,88.4 L635.5,85.9 L636.0,84.6 L636.5,82.4 L637.0,80.3 L637.5,79.0 L638.0,77.2 L638.5,76.2 L639.0,77.0 L639.5,78.4 L640.0,79.4 L640.5,79.7 L641.0,80.8 L641.5,80.8 L642.0,80.8 L642.5,81.3 L643.0,82.1 L643.5,81.5 L644.0,81.8 L644.5,80.0 L645.0,77.7 L645.5,75.5 L646.0,75.5 L646.5,74.8 L647.0,73.6 L647.5,72.7 L648.0,72.3 L648.5,71.3 L649.0,70.3 L649.5,69.6 L650.0,67.9 L650.5,67.0 L651.0,66.2 L651.5,68.8 L652.0,72.0 L652.5,75.0 L653.0,78.8 L653.5,81.2 L654.0,84.3 L654.5,89.4 L655.0,105.4 L655.5,102.7 L656.0,99.9 L656.5,100.0 L657.0,99.8 L657.5,101.6 L658.0,112.3 L658.5,122.5 L659.0,130.9 L659.5,135.9 L660.0,139.6 L660.5,135.9 L661.0,132.1 L661.5,132.2 L662.0,132.2 L662.5,132.4 L663.0,128.1 L663.5,122.5 L664.0,118.1 L664.5,113.5 L665.0,108.7 L665.5,105.6 L666.0,101.1 L666.5,99.3 L667.0,98.4 L667.5,97.4 L668.0,97.4 L668.5,99.4 L669.0,101.3 L669.5,100.5 L670.0,99.6 L670.5,99.4 L671.0,98.2 L671.5,96.6 L672.0,96.7 L672.5,98.6 L673.0,98.6 L673.5,99.5 L674.0,99.0 L674.5,97.4 L675.0,96.0 L675.5,94.7 L676.0,93.0 L676.5,91.0 L677.0,89.9 L677.5,87.6 L678.0,87.4 L678.5,85.8 L679.0,84.6 L679.5,84.1 L680.0,84.7 L680.5,84.1 L681.0,82.8 L681.5,82.5 L682.0,81.9 L682.5,81.5 L683.0,80.8 L683.5,80.6 L684.0,80.6 L684.5,80.2 L685.0,80.3 L685.5,79.7 L686.0,79.9 L686.5,78.0 L687.0,77.2 L687.5,76.9 L688.0,74.7 L688.5,74.6 L689.0,73.9 L689.5,73.0 L690.0,72.3 L690.5,72.2 L691.0,71.1 L691.5,70.8 L692.0,69.7 L692.5,68.6 L693.0,66.9 L693.5,66.9 L694.0,64.7 L694.5,64.0 L695.0,63.3 L695.5,61.2 L696.0,60.3 L696.5,59.8 L697.0,58.2 L697.5,56.7 L698.0,58.0 L698.5,58.3 L699.0,59.6 L699.5,59.4 L700.0,60.7" fill="none" stroke="#ff0000" stroke-width="1.45" stroke-linejoin="round"/><path d="M33.0,309.7 L33.5,311.5 L34.0,313.1 L34.5,312.5 L35.0,311.1 L35.5,309.9 L36.0,309.5 L36.5,308.6 L37.0,307.0 L37.5,307.0 L38.0,307.7 L38.5,311.3 L39.0,313.3 L39.5,315.4 L40.0,315.7 L40.5,313.1 L41.0,313.2 L41.5,311.7 L42.0,313.0 L42.5,313.2 L43.0,313.7 L43.5,314.8 L44.0,315.1 L44.5,317.0 L45.0,318.4 L45.5,320.4 L46.0,322.6 L46.5,322.9 L47.0,322.5 L47.5,322.7 L48.0,322.5 L48.5,322.8 L49.0,321.2 L49.5,320.1 L50.0,323.7 L50.5,328.0 L51.0,333.0 L51.5,331.8 L52.0,329.9 L52.5,327.6 L53.0,325.7 L53.5,324.8 L54.0,322.4 L54.5,321.6 L55.0,320.6 L55.5,319.2 L56.0,318.1 L56.5,319.0 L57.0,320.4 L57.5,320.5 L58.0,320.0 L58.5,319.6 L59.0,321.0 L59.5,321.8 L60.0,322.1 L60.5,321.7 L61.0,321.6 L61.5,321.1 L62.0,319.7 L62.5,318.0 L63.0,316.9 L63.5,316.6 L64.0,318.3 L64.5,318.8 L65.0,319.6 L65.5,320.4 L66.0,322.0 L66.5,320.5 L67.0,319.7 L67.5,317.1 L68.0,315.0 L68.5,314.2 L69.0,314.3 L69.5,315.0 L70.0,313.9 L70.5,314.1 L71.0,315.4 L71.5,316.6 L72.0,317.2 L72.5,316.1 L73.0,317.2 L73.5,317.6 L74.0,317.1 L74.5,318.5 L75.0,317.8 L75.5,316.3 L76.0,316.0 L76.5,314.3 L77.0,314.7 L77.5,313.4 L78.0,312.7 L78.5,313.0 L79.0,313.2 L79.5,312.3 L80.0,309.8 L80.5,309.9 L81.0,309.5 L81.5,309.6 L82.0,307.9 L82.5,306.9 L83.0,306.0 L83.5,307.7 L84.0,308.6 L84.5,308.9 L85.0,309.7 L85.5,309.8 L86.0,310.5 L86.5,310.2 L87.0,310.9 L87.5,309.1 L88.0,309.0 L88.5,308.3 L89.0,307.8 L89.5,309.1 L90.0,311.9 L90.5,313.3 L91.0,311.9 L91.5,310.7 L92.0,309.3 L92.5,309.5 L93.0,309.6 L93.5,309.5 L94.0,310.0 L94.5,309.8 L95.0,309.3 L95.5,310.5 L96.0,310.1 L96.5,309.6 L97.0,308.7 L97.5,308.3 L98.0,307.9 L98.5,309.0 L99.0,309.9 L99.5,311.6 L100.0,311.0 L100.5,308.4 L101.0,306.3 L101.5,302.6 L102.0,300.6 L102.5,299.1 L103.0,299.7 L103.5,300.6 L104.0,301.7 L104.5,302.3 L105.0,301.9 L105.5,301.2 L106.0,299.8 L106.5,298.5 L107.0,296.6 L107.5,295.5 L108.0,295.2 L108.5,295.6 L109.0,296.2 L109.5,295.6 L110.0,295.9 L110.5,296.0 L111.0,296.5 L111.5,295.5 L112.0,295.8 L112.5,295.5 L113.0,296.9 L113.5,297.6 L114.0,295.7 L114.5,297.2 L115.0,298.7 L115.5,299.2 L116.0,297.9 L116.5,295.0 L117.0,296.0 L117.5,295.8 L118.0,295.0 L118.5,293.4 L119.0,291.8 L119.5,290.9 L120.0,291.7 L120.5,289.9 L121.0,290.8 L121.5,291.4 L122.0,290.8 L122.5,290.5 L123.0,290.9 L123.5,291.3 L124.0,291.2 L124.5,292.4 L125.0,292.3 L125.5,292.2 L126.0,291.9 L126.5,291.8 L127.0,291.5 L127.5,292.1 L128.0,290.6 L128.5,288.6 L129.0,288.2 L129.5,288.9 L130.0,290.5 L130.5,291.7 L131.0,293.2 L131.5,292.8 L132.0,292.2 L132.5,291.0 L133.0,290.2 L133.5,289.0 L134.0,289.7 L134.5,290.6 L135.0,291.2 L135.5,292.0 L136.0,292.6 L136.5,293.6 L137.0,292.7 L137.5,292.2 L138.0,292.7 L138.5,291.6 L139.0,290.0 L139.5,291.2 L140.0,290.9 L140.5,293.2 L141.0,292.7 L141.5,290.8 L142.0,290.8 L142.5,289.9 L143.0,291.7 L143.5,291.2 L144.0,291.0 L144.5,291.9 L145.0,292.7 L145.5,293.0 L146.0,292.2 L146.5,291.9 L147.0,292.0 L147.5,291.5 L148.0,293.1 L148.5,294.5 L149.0,293.1 L149.5,294.3 L150.0,294.3 L150.5,295.3 L151.0,295.6 L151.5,295.9 L152.0,296.1 L152.5,297.8 L153.0,298.2 L153.5,298.8 L154.0,298.3 L154.5,295.8 L155.0,294.5 L155.5,294.3 L156.0,293.8 L156.5,292.7 L157.0,291.8 L157.5,292.4 L158.0,292.3 L158.5,292.9 L159.0,292.8 L159.5,294.0 L160.0,291.8 L160.5,289.2 L161.0,290.1 L161.5,290.0 L162.0,289.4 L162.5,288.9 L163.0,288.1 L163.5,288.2 L164.0,288.9 L164.5,288.0 L165.0,288.4 L165.5,287.4 L166.0,285.7 L166.5,286.1 L167.0,287.1 L167.5,286.5 L168.0,286.4 L168.5,286.6 L169.0,287.2 L169.5,286.0 L170.0,287.2 L170.5,287.4 L171.0,286.3 L171.5,285.6 L172.0,285.2 L172.5,285.5 L173.0,284.9 L173.5,284.1 L174.0,284.1 L174.5,283.8 L175.0,284.0 L175.5,283.1 L176.0,281.7 L176.5,281.1 L177.0,281.1 L177.5,282.4 L178.0,281.0 L178.5,279.8 L179.0,279.6 L179.5,279.3 L180.0,281.2 L180.5,283.2 L181.0,283.0 L181.5,282.0 L182.0,281.6 L182.5,283.5 L183.0,287.2 L183.5,290.0 L184.0,291.9 L184.5,290.6 L185.0,289.5 L185.5,289.5 L186.0,288.1 L186.5,286.6 L187.0,283.9 L187.5,285.8 L188.0,287.7 L188.5,287.7 L189.0,287.5 L189.5,288.3 L190.0,290.5 L190.5,292.2 L191.0,293.4 L191.5,293.7 L192.0,294.2 L192.5,292.9 L193.0,292.4 L193.5,293.1 L194.0,292.4 L194.5,291.8 L195.0,291.2 L195.5,290.8 L196.0,290.3 L196.5,289.5 L197.0,289.5 L197.5,287.0 L198.0,286.6 L198.5,284.1 L199.0,283.2 L199.5,282.9 L200.0,282.0 L200.5,281.9 L201.0,280.3 L201.5,279.8 L202.0,279.1 L202.5,277.9 L203.0,276.5 L203.5,277.4 L204.0,277.0 L204.5,276.8 L205.0,277.9 L205.5,278.8 L206.0,278.0 L206.5,277.1 L207.0,276.8 L207.5,278.9 L208.0,280.1 L208.5,280.2 L209.0,281.3 L209.5,281.5 L210.0,280.3 L210.5,279.9 L211.0,278.1 L211.5,277.9 L212.0,276.0 L212.5,275.4 L213.0,276.3 L213.5,276.4 L214.0,274.2 L214.5,273.5 L215.0,275.3 L215.5,276.5 L216.0,276.0 L216.5,275.0 L217.0,274.6 L217.5,275.4 L218.0,274.8 L218.5,272.9 L219.0,273.1 L219.5,273.2 L220.0,273.3 L220.5,273.3 L221.0,272.7 L221.5,271.8 L222.0,271.2 L222.5,270.9 L223.0,271.9 L223.5,272.4 L224.0,271.7 L224.5,271.3 L225.0,270.8 L225.5,270.8 L226.0,270.9 L226.5,270.8 L227.0,272.2 L227.5,273.0 L228.0,275.0 L228.5,276.9 L229.0,277.8 L229.5,279.3 L230.0,278.8 L230.5,278.6 L231.0,278.2 L231.5,277.9 L232.0,278.1 L232.5,277.5 L233.0,277.0 L233.5,277.7 L234.0,278.1 L234.5,278.1 L235.0,280.1 L235.5,280.8 L236.0,281.7 L236.5,278.9 L237.0,278.7 L237.5,278.0 L238.0,277.0 L238.5,277.2 L239.0,279.7 L239.5,284.1 L240.0,286.0 L240.5,289.1 L241.0,293.5 L241.5,296.1 L242.0,293.3 L242.5,293.5 L243.0,291.6 L243.5,291.3 L244.0,290.9 L244.5,289.8 L245.0,288.4 L245.5,287.9 L246.0,287.5 L246.5,286.2 L247.0,284.1 L247.5,281.7 L248.0,280.0 L248.5,277.7 L249.0,277.9 L249.5,279.5 L250.0,279.4 L250.5,280.1 L251.0,279.4 L251.5,279.2 L252.0,277.9 L252.5,277.7 L253.0,278.7 L253.5,278.4 L254.0,277.4 L254.5,276.9 L255.0,275.0 L255.5,273.6 L256.0,272.1 L256.5,268.8 L257.0,269.9 L257.5,269.9 L258.0,269.9 L258.5,269.0 L259.0,266.6 L259.5,266.6 L260.0,266.0 L260.5,266.7 L261.0,266.3 L261.5,266.1 L262.0,265.4 L262.5,264.5 L263.0,263.5 L263.5,262.6 L264.0,262.8 L264.5,263.8 L265.0,265.7 L265.5,266.9 L266.0,268.2 L266.5,268.9 L267.0,269.2 L267.5,269.2 L268.0,269.0 L268.5,267.4 L269.0,266.7 L269.5,265.7 L270.0,265.4 L270.5,263.9 L271.0,262.9 L271.5,261.1 L272.0,261.6 L272.5,260.5 L273.0,259.2 L273.5,260.7 L274.0,259.9 L274.5,257.4 L275.0,257.5 L275.5,257.5 L276.0,257.8 L276.5,255.7 L277.0,255.0 L277.5,254.9 L278.0,255.8 L278.5,256.4 L279.0,258.9 L279.5,259.4 L280.0,260.1 L280.5,261.9 L281.0,260.7 L281.5,261.4 L282.0,263.4 L282.5,264.9 L283.0,265.0 L283.5,264.8 L284.0,263.3 L284.5,261.5 L285.0,260.2 L285.5,258.7 L286.0,258.3 L286.5,258.0 L287.0,258.8 L287.5,258.4 L288.0,257.1 L288.5,255.5 L289.0,255.6 L289.5,255.0 L290.0,255.1 L290.5,256.3 L291.0,256.5 L291.5,255.6 L292.0,255.6 L292.5,256.6 L293.0,256.6 L293.5,257.2 L294.0,255.6 L294.5,254.2 L295.0,251.4 L295.5,252.4 L296.0,251.8 L296.5,251.4 L297.0,252.5 L297.5,250.3 L298.0,248.6 L298.5,249.0 L299.0,249.6 L299.5,249.2 L300.0,250.2 L300.5,248.3 L301.0,248.5 L301.5,247.3 L302.0,246.8 L302.5,247.9 L303.0,246.4 L303.5,245.2 L304.0,246.1 L304.5,245.7 L305.0,245.0 L305.5,244.9 L306.0,244.5 L306.5,244.6 L307.0,243.5 L307.5,243.8 L308.0,242.9 L308.5,244.8 L309.0,244.2 L309.5,243.8 L310.0,241.6 L310.5,240.4 L311.0,240.3 L311.5,240.0 L312.0,238.8 L312.5,239.9 L313.0,239.0 L313.5,238.8 L314.0,238.1 L314.5,236.2 L315.0,236.4 L315.5,234.6 L316.0,233.6 L316.5,233.2 L317.0,233.4 L317.5,233.4 L318.0,232.6 L318.5,231.2 L319.0,232.8 L319.5,235.7 L320.0,244.6 L320.5,252.0 L321.0,256.0 L321.5,261.3 L322.0,269.6 L322.5,278.0 L323.0,285.4 L323.5,292.5 L324.0,296.7 L324.5,296.6 L325.0,293.1 L325.5,289.0 L326.0,284.6 L326.5,281.5 L327.0,277.8 L327.5,273.3 L328.0,269.9 L328.5,268.4 L329.0,269.1 L329.5,266.5 L330.0,265.4 L330.5,264.8 L331.0,265.5 L331.5,265.5 L332.0,264.4 L332.5,263.4 L333.0,264.3 L333.5,263.4 L334.0,261.2 L334.5,261.8 L335.0,262.3 L335.5,262.3 L336.0,261.0 L336.5,258.7 L337.0,258.7 L337.5,259.0 L338.0,257.3 L338.5,254.8 L339.0,254.0 L339.5,254.1 L340.0,253.7 L340.5,255.4 L341.0,255.0 L341.5,255.5 L342.0,256.1 L342.5,256.1 L343.0,256.6 L343.5,257.1 L344.0,257.0 L344.5,256.3 L345.0,256.5 L345.5,256.3 L346.0,255.4 L346.5,253.8 L347.0,252.8 L347.5,252.5 L348.0,252.8 L348.5,251.6 L349.0,251.3 L349.5,250.8 L350.0,251.1 L350.5,248.9 L351.0,247.3 L351.5,246.9 L352.0,246.4 L352.5,245.0 L353.0,243.0 L353.5,243.7 L354.0,244.3 L354.5,244.4 L355.0,245.3 L355.5,245.8 L356.0,247.8 L356.5,249.6 L357.0,250.9 L357.5,250.7 L358.0,248.8 L358.5,247.4 L359.0,247.4 L359.5,248.2 L360.0,247.1 L360.5,245.6 L361.0,244.9 L361.5,244.2 L362.0,243.9 L362.5,244.5 L363.0,245.0 L363.5,245.6 L364.0,245.9 L364.5,247.6 L365.0,248.8 L365.5,248.8 L366.0,246.5 L366.5,243.6 L367.0,240.1 L367.5,236.9 L368.0,236.4 L368.5,235.9 L369.0,235.5 L369.5,233.6 L370.0,233.7 L370.5,233.7 L371.0,234.6 L371.5,234.9 L372.0,234.7 L372.5,234.4 L373.0,234.4 L373.5,235.4 L374.0,235.5 L374.5,234.5 L375.0,232.5 L375.5,233.0 L376.0,232.8 L376.5,232.8 L377.0,232.2 L377.5,231.5 L378.0,230.6 L378.5,228.4 L379.0,226.8 L379.5,225.8 L380.0,225.2 L380.5,225.0 L381.0,224.0 L381.5,222.4 L382.0,223.0 L382.5,224.2 L383.0,225.1 L383.5,225.8 L384.0,224.5 L384.5,221.1 L385.0,219.5 L385.5,220.5 L386.0,221.4 L386.5,223.9 L387.0,222.9 L387.5,220.1 L388.0,218.1 L388.5,215.7 L389.0,215.9 L389.5,214.3 L390.0,214.6 L390.5,214.2 L391.0,213.1 L391.5,213.4 L392.0,211.8 L392.5,210.4 L393.0,208.8 L393.5,207.4 L394.0,206.2 L394.5,206.9 L395.0,206.9 L395.5,206.5 L396.0,206.1 L396.5,206.8 L397.0,206.1 L397.5,205.1 L398.0,207.1 L398.5,206.8 L399.0,206.3 L399.5,205.2 L400.0,207.1 L400.5,206.6 L401.0,209.1 L401.5,207.1 L402.0,207.1 L402.5,205.3 L403.0,204.0 L403.5,203.5 L404.0,202.5 L404.5,201.9 L405.0,201.2 L405.5,200.0 L406.0,198.0 L406.5,196.5 L407.0,196.8 L407.5,196.2 L408.0,193.7 L408.5,193.1 L409.0,192.8 L409.5,193.1 L410.0,193.1 L410.5,192.8 L411.0,193.7 L411.5,194.1 L412.0,191.6 L412.5,191.8 L413.0,194.2 L413.5,192.1 L414.0,190.3 L414.5,191.2 L415.0,190.5 L415.5,189.3 L416.0,187.0 L416.5,184.4 L417.0,183.4 L417.5,184.9 L418.0,184.5 L418.5,184.3 L419.0,184.3 L419.5,183.5 L420.0,182.8 L420.5,182.1 L421.0,182.4 L421.5,184.4 L422.0,184.6 L422.5,184.2 L423.0,185.1 L423.5,186.4 L424.0,185.5 L424.5,183.5 L425.0,183.2 L425.5,184.0 L426.0,185.2 L426.5,187.4 L427.0,188.0 L427.5,184.3 L428.0,181.9 L428.5,181.5 L429.0,181.6 L429.5,179.4 L430.0,178.4 L430.5,179.4 L431.0,175.9 L431.5,174.3 L432.0,171.0 L432.5,170.2 L433.0,168.7 L433.5,169.3 L434.0,168.1 L434.5,164.7 L435.0,163.4 L435.5,164.5 L436.0,165.2 L436.5,167.3 L437.0,169.0 L437.5,168.3 L438.0,166.9 L438.5,165.8 L439.0,166.5 L439.5,167.2 L440.0,166.7 L440.5,165.7 L441.0,164.9 L441.5,163.9 L442.0,163.6 L442.5,162.0 L443.0,162.4 L443.5,162.5 L444.0,164.8 L444.5,166.9 L445.0,168.3 L445.5,170.4 L446.0,172.7 L446.5,174.8 L447.0,178.3 L447.5,180.6 L448.0,180.0 L448.5,177.3 L449.0,175.6 L449.5,175.1 L450.0,176.3 L450.5,178.5 L451.0,181.4 L451.5,183.8 L452.0,185.9 L452.5,185.4 L453.0,182.8 L453.5,181.0 L454.0,181.3 L454.5,180.4 L455.0,180.1 L455.5,181.9 L456.0,181.3 L456.5,180.5 L457.0,177.8 L457.5,176.9 L458.0,172.8 L458.5,170.5 L459.0,167.3 L459.5,167.7 L460.0,168.4 L460.5,168.1 L461.0,169.0 L461.5,170.3 L462.0,171.2 L462.5,171.1 L463.0,172.6 L463.5,173.9 L464.0,174.6 L464.5,176.3 L465.0,178.1 L465.5,180.4 L466.0,181.8 L466.5,184.6 L467.0,185.1 L467.5,185.3 L468.0,184.1 L468.5,184.5 L469.0,183.8 L469.5,184.0 L470.0,182.9 L470.5,186.8 L471.0,190.6 L471.5,192.4 L472.0,195.1 L472.5,196.6 L473.0,199.3 L473.5,202.6 L474.0,200.5 L474.5,198.6 L475.0,197.6 L475.5,195.5 L476.0,194.6 L476.5,192.0 L477.0,190.3 L477.5,186.5 L478.0,185.0 L478.5,184.0 L479.0,183.4 L479.5,183.1 L480.0,180.8 L480.5,178.2 L481.0,176.7 L481.5,174.0 L482.0,173.1 L482.5,172.0 L483.0,169.5 L483.5,168.9 L484.0,167.3 L484.5,166.4 L485.0,166.4 L485.5,166.1 L486.0,166.5 L486.5,167.9 L487.0,171.0 L487.5,171.7 L488.0,173.1 L488.5,174.0 L489.0,175.8 L489.5,177.0 L490.0,180.4 L490.5,184.4 L491.0,186.9 L491.5,189.3 L492.0,192.1 L492.5,194.2 L493.0,196.4 L493.5,198.3 L494.0,197.8 L494.5,195.0 L495.0,192.9 L495.5,191.0 L496.0,189.3 L496.5,188.9 L497.0,187.0 L497.5,186.2 L498.0,185.2 L498.5,185.8 L499.0,185.8 L499.5,185.6 L500.0,185.5 L500.5,185.2 L501.0,182.7 L501.5,181.6 L502.0,181.2 L502.5,178.9 L503.0,178.7 L503.5,180.7 L504.0,183.4 L504.5,186.2 L505.0,187.5 L505.5,190.0 L506.0,192.6 L506.5,194.2 L507.0,196.1 L507.5,196.5 L508.0,197.4 L508.5,198.4 L509.0,198.5 L509.5,197.0 L510.0,196.5 L510.5,193.9 L511.0,193.2 L511.5,191.5 L512.0,191.1 L512.5,188.2 L513.0,186.8 L513.5,187.6 L514.0,185.5 L514.5,185.2 L515.0,183.8 L515.5,181.7 L516.0,181.2 L516.5,179.5 L517.0,180.6 L517.5,181.0 L518.0,181.8 L518.5,182.5 L519.0,183.7 L519.5,182.8 L520.0,183.0 L520.5,182.1 L521.0,182.2 L521.5,183.7 L522.0,187.4 L522.5,191.1 L523.0,192.5 L523.5,192.0 L524.0,191.0 L524.5,190.1 L525.0,188.4 L525.5,187.1 L526.0,185.4 L526.5,185.2 L527.0,184.6 L527.5,184.4 L528.0,183.2 L528.5,184.4 L529.0,183.3 L529.5,183.4 L530.0,185.1 L530.5,183.0 L531.0,181.8 L531.5,181.2 L532.0,179.5 L532.5,178.5 L533.0,179.1 L533.5,177.6 L534.0,176.1 L534.5,176.2 L535.0,175.7 L535.5,172.0 L536.0,170.8 L536.5,170.5 L537.0,169.2 L537.5,168.9 L538.0,168.4 L538.5,169.6 L539.0,171.1 L539.5,171.3 L540.0,170.8 L540.5,171.5 L541.0,171.7 L541.5,169.6 L542.0,169.4 L542.5,167.9 L543.0,167.8 L543.5,166.3 L544.0,165.5 L544.5,165.8 L545.0,166.4 L545.5,165.7 L546.0,163.5 L546.5,163.2 L547.0,161.7 L547.5,160.6 L548.0,160.3 L548.5,159.6 L549.0,160.2 L549.5,162.4 L550.0,164.0 L550.5,166.1 L551.0,168.4 L551.5,165.8 L552.0,163.1 L552.5,161.6 L553.0,160.7 L553.5,161.0 L554.0,160.6 L554.5,160.6 L555.0,159.3 L555.5,161.3 L556.0,162.2 L556.5,162.0 L557.0,164.4 L557.5,166.2 L558.0,166.2 L558.5,164.8 L559.0,163.0 L559.5,163.2 L560.0,164.0 L560.5,164.0 L561.0,164.9 L561.5,166.6 L562.0,169.8 L562.5,172.7 L563.0,176.0 L563.5,177.4 L564.0,175.0 L564.5,172.9 L565.0,171.4 L565.5,170.4 L566.0,169.2 L566.5,167.2 L567.0,166.1 L567.5,165.3 L568.0,164.1 L568.5,162.9 L569.0,162.4 L569.5,161.0 L570.0,158.8 L570.5,155.9 L571.0,153.3 L571.5,151.1 L572.0,150.0 L572.5,149.8 L573.0,151.0 L573.5,151.9 L574.0,151.1 L574.5,151.7 L575.0,150.2 L575.5,150.2 L576.0,149.4 L576.5,148.6 L577.0,148.2 L577.5,145.1 L578.0,144.1 L578.5,142.1 L579.0,141.0 L579.5,140.4 L580.0,139.1 L580.5,137.4 L581.0,135.6 L581.5,133.4 L582.0,131.5 L582.5,130.7 L583.0,130.9 L583.5,130.2 L584.0,129.2 L584.5,128.2 L585.0,128.2 L585.5,127.7 L586.0,127.9 L586.5,127.6 L587.0,127.7 L587.5,126.8 L588.0,125.2 L588.5,122.1 L589.0,120.7 L589.5,119.9 L590.0,118.6 L590.5,118.4 L591.0,116.7 L591.5,115.6 L592.0,115.7 L592.5,117.5 L593.0,118.7 L593.5,121.1 L594.0,122.8 L594.5,123.3 L595.0,121.1 L595.5,119.8 L596.0,120.3 L596.5,120.3 L597.0,120.2 L597.5,118.4 L598.0,116.4 L598.5,115.3 L599.0,114.3 L599.5,113.0 L600.0,111.6 L600.5,112.4 L601.0,111.1 L601.5,113.9 L602.0,113.5 L602.5,114.6 L603.0,112.5 L603.5,110.6 L604.0,109.3 L604.5,108.0 L605.0,104.9 L605.5,103.9 L606.0,102.4 L606.5,101.6 L607.0,102.3 L607.5,101.2 L608.0,101.5 L608.5,100.7 L609.0,99.6 L609.5,98.9 L610.0,98.2 L610.5,97.4 L611.0,95.4 L611.5,97.2 L612.0,99.9 L612.5,101.6 L613.0,104.7 L613.5,108.8 L614.0,114.5 L614.5,120.1 L615.0,123.6 L615.5,125.7 L616.0,118.2 L616.5,113.1 L617.0,108.8 L617.5,106.3 L618.0,106.2 L618.5,105.1 L619.0,104.8 L619.5,103.6 L620.0,103.2 L620.5,106.6 L621.0,111.2 L621.5,113.4 L622.0,109.5 L622.5,105.7 L623.0,101.2 L623.5,100.1 L624.0,99.4 L624.5,97.3 L625.0,97.0 L625.5,96.7 L626.0,94.9 L626.5,92.7 L627.0,89.9 L627.5,87.3 L628.0,85.1 L628.5,83.5 L629.0,82.5 L629.5,83.7 L630.0,85.9 L630.5,86.1 L631.0,86.5 L631.5,91.0 L632.0,90.1 L632.5,88.0 L633.0,85.1 L633.5,80.3 L634.0,77.4 L634.5,74.6 L635.0,72.3 L635.5,70.2 L636.0,68.1 L636.5,66.8 L637.0,64.2 L637.5,62.5 L638.0,59.8 L638.5,60.1 L639.0,61.3 L639.5,62.4 L640.0,62.6 L640.5,63.5 L641.0,64.5 L641.5,64.7 L642.0,65.4 L642.5,67.6 L643.0,67.6 L643.5,66.9 L644.0,65.6 L644.5,62.5 L645.0,60.0 L645.5,57.5 L646.0,56.1 L646.5,57.8 L647.0,57.5 L647.5,57.3 L648.0,54.6 L648.5,53.5 L649.0,52.9 L649.5,52.4 L650.0,50.6 L650.5,50.3 L651.0,51.7 L651.5,54.4 L652.0,57.3 L652.5,62.2 L653.0,64.5 L653.5,68.1 L654.0,73.9 L654.5,79.1 L655.0,82.4 L655.5,89.2 L656.0,86.5 L656.5,83.8 L657.0,80.9 L657.5,82.4 L658.0,84.4 L658.5,88.1 L659.0,93.6 L659.5,101.8 L660.0,110.0 L660.5,117.1 L661.0,125.0 L661.5,125.8 L662.0,122.9 L662.5,119.1 L663.0,114.8 L663.5,110.2 L664.0,105.4 L664.5,101.3 L665.0,98.6 L665.5,95.4 L666.0,91.6 L666.5,85.1 L667.0,81.2 L667.5,79.9 L668.0,81.1 L668.5,84.1 L669.0,81.8 L669.5,82.5 L670.0,81.9 L670.5,80.6 L671.0,80.9 L671.5,80.1 L672.0,81.0 L672.5,81.8 L673.0,82.5 L673.5,82.5 L674.0,83.7 L674.5,82.0 L675.0,81.2 L675.5,79.3 L676.0,77.6 L676.5,76.5 L677.0,74.1 L677.5,72.8 L678.0,73.2 L678.5,73.0 L679.0,72.7 L679.5,70.7 L680.0,69.5 L680.5,69.4 L681.0,67.9 L681.5,66.4 L682.0,63.6 L682.5,63.6 L683.0,63.7 L683.5,62.9 L684.0,63.1 L684.5,61.8 L685.0,61.7 L685.5,61.5 L686.0,61.3 L686.5,61.8 L687.0,61.1 L687.5,60.1 L688.0,59.6 L688.5,57.7 L689.0,57.8 L689.5,56.8 L690.0,55.6 L690.5,54.7 L691.0,54.7 L691.5,53.6 L692.0,52.2 L692.5,52.3 L693.0,52.3 L693.5,51.0 L694.0,48.3 L694.5,46.3 L695.0,45.0 L695.5,44.8 L696.0,43.6 L696.5,42.2 L697.0,40.9 L697.5,38.2 L698.0,39.4 L698.5,39.8 L699.0,39.4 L699.5,40.4 L700.0,42.5" fill="none" stroke="#008000" stroke-width="1.45" stroke-linejoin="round"/><rect x="169.6" y="384.3" width="6.4" height="6.4" rx="1" fill="#0b3670"/><rect x="276.7" y="384.3" width="6.4" height="6.4" rx="1" fill="#ff0000"/><rect x="457.2" y="384.3" width="6.4" height="6.4" rx="1" fill="#008000"/><text x="181.3" y="390.8" font-size="8" fill="#5e5e5e" textLength="90" lengthAdjust="spacingAndGlyphs">BP Azionario Internazionale</text><text x="288" y="390.8" font-size="8" fill="#5e5e5e" textLength="163.7" lengthAdjust="spacingAndGlyphs">iShares Core MSCI World UCITS ETF USD (Acc) (MI)</text><text x="469.4" y="390.8" font-size="8" fill="#5e5e5e" textLength="64.6" lengthAdjust="spacingAndGlyphs">MSCI WORLD INDEX</text></svg>
</body></html>
